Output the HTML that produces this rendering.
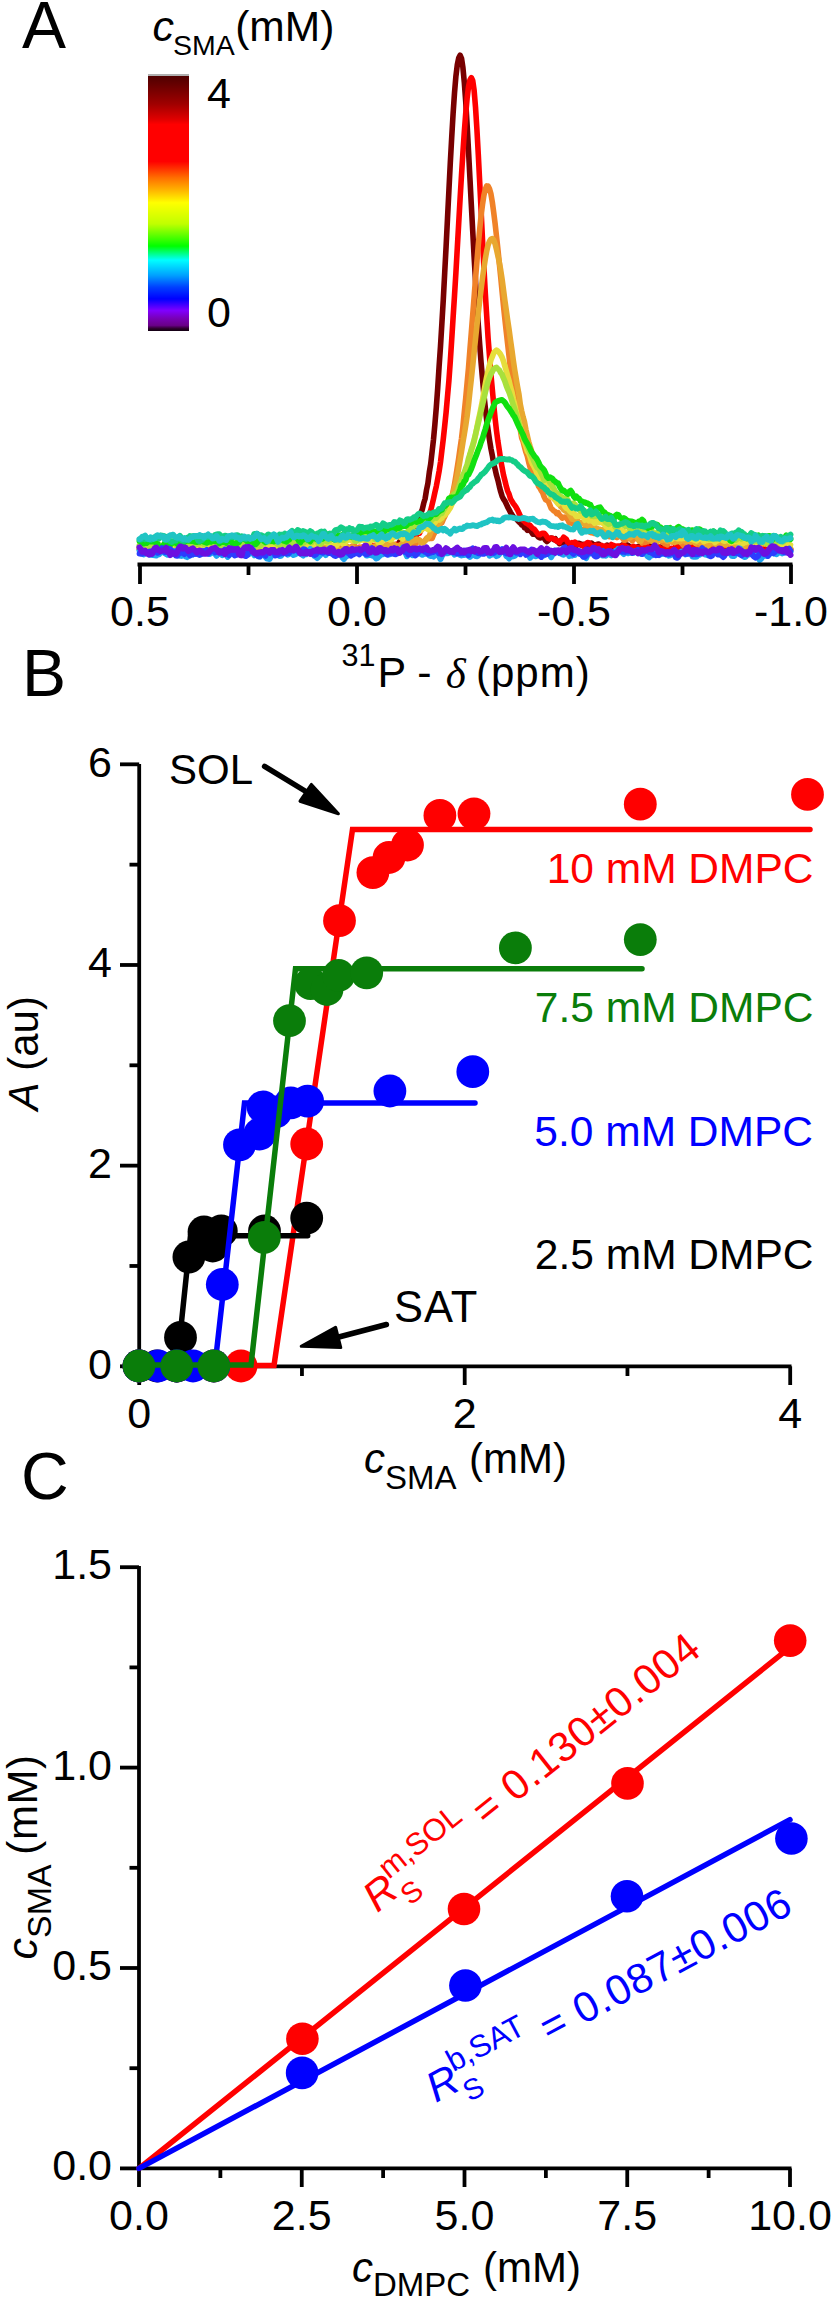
<!DOCTYPE html>
<html><head><meta charset="utf-8"><title>Figure</title>
<style>html,body{margin:0;padding:0;background:#fff;}svg{display:block;}</style></head>
<body>
<svg width="833" height="2300" viewBox="0 0 833 2300" font-family='"Liberation Sans", sans-serif'><text x="22" y="48" font-size="66" text-anchor="start" fill="#000" >A</text>
<text x="22" y="696" font-size="66" text-anchor="start" fill="#000" >B</text>
<text x="21" y="1499" font-size="66" text-anchor="start" fill="#000" >C</text>
<text x="152.6" y="40.5" font-size="43" text-anchor="start" fill="#000" font-style="italic" >c</text>
<text x="173.1" y="55" font-size="28.5" text-anchor="start" fill="#000" >SMA</text>
<text x="235.2" y="41.1" font-size="42.5" text-anchor="start" fill="#000" >(mM)</text>
<defs><linearGradient id="cb" x1="0" y1="0" x2="0" y2="1"><stop offset="0.0" stop-color="#500000"/><stop offset="0.03" stop-color="#640000"/><stop offset="0.11" stop-color="#a00000"/><stop offset="0.17" stop-color="#e00000"/><stop offset="0.19" stop-color="#ff0000"/><stop offset="0.335" stop-color="#ff0000"/><stop offset="0.4" stop-color="#ff7000"/><stop offset="0.445" stop-color="#ffb000"/><stop offset="0.497" stop-color="#ffff00"/><stop offset="0.58" stop-color="#c0ff00"/><stop offset="0.667" stop-color="#00ff00"/><stop offset="0.722" stop-color="#00ffff"/><stop offset="0.782" stop-color="#00a0ff"/><stop offset="0.828" stop-color="#0040ff"/><stop offset="0.874" stop-color="#0000ff"/><stop offset="0.92" stop-color="#8000ff"/><stop offset="0.95" stop-color="#7800b8"/><stop offset="0.978" stop-color="#6a0088"/><stop offset="0.99" stop-color="#300030"/><stop offset="1.0" stop-color="#100010"/></linearGradient></defs>
<rect x="148" y="74" width="41" height="2" fill="#b0b0b0"/>
<rect x="148" y="76" width="41" height="255" fill="url(#cb)"/>
<text x="207" y="108" font-size="43" text-anchor="start" fill="#000" >4</text>
<text x="207" y="327" font-size="43" text-anchor="start" fill="#000" >0</text>
<polyline points="139.5,549.3 140.9,550.0 142.3,548.9 143.7,549.4 145.1,550.0 146.5,550.3 147.9,550.5 149.3,549.6 150.7,550.4 152.1,550.4 153.5,550.3 154.9,548.7 156.3,548.4 157.7,547.7 159.1,547.4 160.5,546.5 161.9,545.6 163.3,546.5 164.7,547.5 166.1,548.5 167.5,548.7 168.9,547.8 170.3,548.0 171.7,548.1 173.1,549.7 174.5,549.1 175.9,548.6 177.3,546.6 178.7,546.8 180.1,545.5 181.5,545.9 182.9,547.1 184.3,547.1 185.7,548.8 187.1,548.2 188.5,549.6 189.9,549.4 191.3,549.5 192.7,550.5 194.1,550.0 195.5,549.2 196.9,547.9 198.3,547.4 199.7,547.8 201.1,547.6 202.5,549.2 203.9,547.8 205.3,547.6 206.7,546.1 208.1,545.9 209.5,548.1 210.9,547.0 212.3,548.4 213.7,546.6 215.1,549.6 216.5,548.4 217.9,549.6 219.3,547.8 220.7,549.1 222.1,547.8 223.5,548.9 224.9,548.1 226.3,548.6 227.7,548.3 229.1,550.6 230.5,548.8 231.9,549.7 233.3,549.0 234.7,550.5 236.1,549.6 237.5,548.5 238.9,550.1 240.3,550.0 241.7,550.2 243.1,548.8 244.5,548.5 245.9,548.5 247.3,548.1 248.7,549.7 250.1,548.4 251.5,546.4 252.9,544.8 254.3,546.1 255.7,549.1 257.1,549.0 258.5,549.0 259.9,549.0 261.3,549.9 262.7,549.6 264.1,549.1 265.5,549.8 266.9,550.6 268.3,550.1 269.7,550.4 271.1,550.6 272.5,550.9 273.9,548.2 275.3,547.9 276.7,547.7 278.1,547.8 279.5,546.6 280.9,546.8 282.3,548.5 283.7,549.1 285.1,548.4 286.5,548.1 287.9,548.4 289.3,550.2 290.7,550.6 292.1,550.4 293.5,549.6 294.9,548.7 296.3,548.0 297.7,548.6 299.1,549.6 300.5,550.6 301.9,549.9 303.3,548.7 304.7,548.0 306.1,547.6 307.5,547.5 308.9,547.4 310.3,547.7 311.7,546.8 313.1,547.7 314.5,548.1 315.9,548.4 317.3,546.4 318.7,546.3 320.1,548.0 321.5,549.2 322.9,548.8 324.3,547.6 325.7,548.6 327.1,548.3 328.5,549.4 329.9,548.7 331.3,550.1 332.7,549.4 334.1,549.4 335.5,547.6 336.9,547.1 338.3,547.0 339.7,548.6 341.1,549.3 342.5,549.0 343.9,548.8 345.3,549.3 346.7,549.7 348.1,549.0 349.5,548.0 350.9,548.7 352.3,549.4 353.7,549.0 355.1,548.6 356.5,547.8 357.9,547.9 359.3,548.6 360.7,549.5 362.1,549.5 363.5,548.6 364.9,548.3 366.3,548.3 367.7,548.1 369.1,548.1 370.5,547.2 371.9,547.5 373.3,547.5 374.7,549.1 376.1,547.7 377.5,547.3 378.9,546.2 380.3,547.5 381.7,547.5 383.1,548.2 384.5,547.0 385.9,545.9 387.3,546.2 388.7,545.8 390.1,546.3 391.5,545.8 392.9,545.9 394.3,546.9 395.7,546.2 397.1,547.5 398.5,543.6 399.9,541.3 401.3,539.7 402.7,540.9 404.1,541.4 405.5,539.7 406.9,536.6 408.3,535.1 409.7,532.9 411.1,532.4 412.5,531.7 413.9,530.3 415.3,528.3 416.7,524.3 418.1,520.7 419.5,516.8 420.9,512.9 422.3,509.4 423.7,503.3 425.1,498.7 426.5,490.0 427.9,483.4 429.3,472.3 430.7,464.0 432.1,451.7 433.5,439.5 434.9,424.2 436.3,407.4 437.7,388.3 439.1,366.4 440.5,346.3 441.9,323.2 443.3,299.5 444.7,272.9 446.1,246.5 447.5,218.3 448.9,190.6 450.3,162.8 451.7,137.7 453.1,113.6 454.5,93.0 455.9,76.3 457.3,64.9 458.7,58.0 460.1,55.2 461.5,58.3 462.9,67.4 464.3,82.3 465.7,101.4 467.1,124.6 468.5,150.4 469.9,177.4 471.3,204.4 472.7,230.7 474.1,256.6 475.5,280.6 476.9,303.9 478.3,325.1 479.7,344.7 481.1,362.7 482.5,378.8 483.9,394.8 485.3,407.6 486.7,420.2 488.1,430.1 489.5,439.9 490.9,448.5 492.3,455.4 493.7,463.8 495.1,469.1 496.5,475.3 497.9,480.1 499.3,486.2 500.7,491.7 502.1,496.2 503.5,499.1 504.9,501.1 506.3,503.9 507.7,507.1 509.1,509.7 510.5,512.4 511.9,514.6 513.3,516.6 514.7,518.1 516.1,518.6 517.5,520.3 518.9,521.8 520.3,523.0 521.7,525.0 523.1,524.8 524.5,527.7 525.9,528.1 527.3,530.3 528.7,529.5 530.1,530.6 531.5,532.0 532.9,534.2 534.3,533.8 535.7,534.4 537.1,535.4 538.5,537.1 539.9,538.0 541.3,537.0 542.7,537.7 544.1,538.0 545.5,540.2 546.9,541.6 548.3,540.4 549.7,538.4 551.1,538.1 552.5,538.2 553.9,539.7 555.3,538.8 556.7,541.0 558.1,541.9 559.5,543.6 560.9,543.0 562.3,542.7 563.7,542.3 565.1,542.8 566.5,543.1 567.9,543.9 569.3,543.5 570.7,544.9 572.1,544.9 573.5,546.5 574.9,546.2 576.3,545.5 577.7,543.3 579.1,543.4 580.5,543.9 581.9,545.4 583.3,544.4 584.7,544.9 586.1,544.0 587.5,544.2 588.9,543.9 590.3,544.9 591.7,543.3 593.1,544.4 594.5,544.7 595.9,545.3 597.3,544.2 598.7,544.0 600.1,545.9 601.5,546.5 602.9,547.6 604.3,547.2 605.7,546.5 607.1,545.1 608.5,545.7 609.9,546.0 611.3,547.2 612.7,547.5 614.1,548.4 615.5,548.6 616.9,547.8 618.3,547.4 619.7,546.2 621.1,546.0 622.5,544.8 623.9,544.9 625.3,544.6 626.7,544.7 628.1,545.3 629.5,546.5 630.9,547.4 632.3,548.3 633.7,548.7 635.1,549.8 636.5,548.3 637.9,546.6 639.3,546.2 640.7,546.9 642.1,548.6 643.5,548.6 644.9,549.3 646.3,548.6 647.7,548.8 649.1,547.2 650.5,545.7 651.9,544.9 653.3,546.7 654.7,547.2 656.1,548.3 657.5,546.7 658.9,547.7 660.3,547.0 661.7,547.7 663.1,547.3 664.5,547.4 665.9,547.6 667.3,548.9 668.7,548.3 670.1,549.1 671.5,550.0 672.9,552.4 674.3,550.2 675.7,548.9 677.1,545.7 678.5,547.0 679.9,547.3 681.3,547.9 682.7,546.4 684.1,546.2 685.5,547.5 686.9,548.1 688.3,547.8 689.7,545.5 691.1,545.5 692.5,545.9 693.9,547.9 695.3,549.6 696.7,548.7 698.1,546.9 699.5,546.0 700.9,546.4 702.3,548.4 703.7,548.6 705.1,549.5 706.5,550.4 707.9,550.8 709.3,549.2 710.7,548.0 712.1,548.5 713.5,549.5 714.9,550.3 716.3,548.7 717.7,548.7 719.1,549.2 720.5,550.0 721.9,550.2 723.3,549.7 724.7,547.9 726.1,547.6 727.5,547.6 728.9,548.6 730.3,548.3 731.7,548.0 733.1,548.2 734.5,550.0 735.9,550.4 737.3,549.9 738.7,548.6 740.1,547.8 741.5,547.9 742.9,549.3 744.3,550.6 745.7,551.8 747.1,551.0 748.5,549.6 749.9,549.3 751.3,548.8 752.7,549.1 754.1,547.2 755.5,547.2 756.9,548.1 758.3,548.6 759.7,547.8 761.1,546.6 762.5,548.6 763.9,550.8 765.3,550.7 766.7,549.1 768.1,547.9 769.5,547.5 770.9,547.9 772.3,547.7 773.7,547.3 775.1,546.9 776.5,546.9 777.9,547.4 779.3,547.0 780.7,547.8 782.1,549.9 783.5,550.5 784.9,549.5 786.3,548.5 787.7,548.5 789.1,548.3 790.5,549.0" fill="none" stroke="#780000" stroke-width="5.6" stroke-linejoin="round" stroke-linecap="round"/>
<polyline points="139.5,547.2 140.9,547.3 142.3,547.7 143.7,548.6 145.1,550.3 146.5,551.0 147.9,550.6 149.3,548.6 150.7,548.0 152.1,547.3 153.5,548.2 154.9,549.0 156.3,549.8 157.7,549.7 159.1,548.4 160.5,548.3 161.9,548.5 163.3,548.4 164.7,548.0 166.1,548.6 167.5,548.0 168.9,548.1 170.3,546.5 171.7,548.9 173.1,549.7 174.5,551.0 175.9,550.1 177.3,549.9 178.7,549.7 180.1,548.2 181.5,548.2 182.9,548.4 184.3,548.6 185.7,549.0 187.1,549.0 188.5,549.0 189.9,548.0 191.3,547.3 192.7,548.0 194.1,548.7 195.5,547.9 196.9,548.2 198.3,548.0 199.7,549.5 201.1,549.7 202.5,549.4 203.9,549.4 205.3,547.8 206.7,548.7 208.1,548.0 209.5,548.5 210.9,547.5 212.3,546.4 213.7,545.8 215.1,545.8 216.5,546.6 217.9,548.7 219.3,548.3 220.7,547.9 222.1,546.6 223.5,548.6 224.9,549.6 226.3,549.8 227.7,547.8 229.1,547.0 230.5,547.3 231.9,548.4 233.3,550.1 234.7,551.0 236.1,550.9 237.5,549.6 238.9,548.1 240.3,546.1 241.7,545.8 243.1,546.8 244.5,548.3 245.9,549.3 247.3,548.0 248.7,548.9 250.1,548.9 251.5,549.9 252.9,549.5 254.3,547.6 255.7,547.2 257.1,546.2 258.5,549.3 259.9,549.5 261.3,549.8 262.7,549.1 264.1,548.5 265.5,549.9 266.9,548.7 268.3,549.5 269.7,547.7 271.1,548.9 272.5,547.3 273.9,548.5 275.3,547.2 276.7,548.9 278.1,547.5 279.5,548.3 280.9,548.4 282.3,549.7 283.7,549.8 285.1,550.1 286.5,550.4 287.9,549.9 289.3,548.5 290.7,546.8 292.1,547.6 293.5,548.2 294.9,550.0 296.3,549.5 297.7,549.0 299.1,548.9 300.5,550.3 301.9,550.9 303.3,549.6 304.7,547.5 306.1,548.3 307.5,548.5 308.9,548.9 310.3,548.7 311.7,549.1 313.1,549.5 314.5,548.6 315.9,548.1 317.3,548.1 318.7,548.7 320.1,549.6 321.5,549.1 322.9,549.2 324.3,549.1 325.7,549.6 327.1,549.7 328.5,550.1 329.9,550.2 331.3,549.8 332.7,548.3 334.1,548.4 335.5,548.3 336.9,548.8 338.3,547.9 339.7,548.4 341.1,550.5 342.5,551.5 343.9,551.1 345.3,549.5 346.7,548.7 348.1,548.7 349.5,547.8 350.9,547.8 352.3,547.9 353.7,548.5 355.1,548.9 356.5,548.1 357.9,548.1 359.3,547.3 360.7,548.5 362.1,548.0 363.5,548.8 364.9,548.7 366.3,549.4 367.7,548.4 369.1,547.5 370.5,547.3 371.9,547.4 373.3,545.7 374.7,545.4 376.1,546.1 377.5,548.1 378.9,548.1 380.3,548.2 381.7,547.9 383.1,548.8 384.5,548.9 385.9,549.0 387.3,547.5 388.7,547.9 390.1,547.1 391.5,547.8 392.9,545.2 394.3,545.2 395.7,544.4 397.1,545.3 398.5,545.8 399.9,545.8 401.3,545.7 402.7,543.9 404.1,544.5 405.5,544.6 406.9,544.9 408.3,542.3 409.7,542.0 411.1,541.1 412.5,540.5 413.9,538.5 415.3,535.7 416.7,535.1 418.1,532.9 419.5,533.2 420.9,530.5 422.3,528.9 423.7,526.2 425.1,524.1 426.5,520.9 427.9,517.3 429.3,513.9 430.7,510.4 432.1,504.7 433.5,498.8 434.9,492.4 436.3,486.3 437.7,479.0 439.1,471.2 440.5,462.1 441.9,450.3 443.3,438.9 444.7,425.9 446.1,412.4 447.5,396.5 448.9,380.8 450.3,361.4 451.7,339.9 453.1,317.5 454.5,295.8 455.9,272.9 457.3,248.0 458.7,223.3 460.1,198.6 461.5,175.2 462.9,152.9 464.3,132.1 465.7,113.7 467.1,98.4 468.5,86.9 469.9,80.1 471.3,77.6 472.7,80.4 474.1,90.2 475.5,106.9 476.9,129.1 478.3,154.6 479.7,182.1 481.1,210.4 482.5,239.6 483.9,267.1 485.3,293.1 486.7,315.8 488.1,338.1 489.5,356.0 490.9,374.3 492.3,389.3 493.7,404.6 495.1,418.5 496.5,430.8 497.9,441.3 499.3,450.1 500.7,460.0 502.1,467.5 503.5,475.0 504.9,480.5 506.3,486.3 507.7,491.1 509.1,494.2 510.5,498.8 511.9,501.2 513.3,503.5 514.7,505.2 516.1,507.3 517.5,509.9 518.9,512.9 520.3,516.2 521.7,518.8 523.1,520.3 524.5,521.4 525.9,523.0 527.3,523.4 528.7,524.7 530.1,525.5 531.5,527.1 532.9,528.6 534.3,529.3 535.7,531.0 537.1,533.0 538.5,534.7 539.9,534.7 541.3,533.7 542.7,533.3 544.1,533.2 545.5,534.7 546.9,536.6 548.3,538.6 549.7,538.9 551.1,538.4 552.5,538.3 553.9,538.8 555.3,539.9 556.7,541.2 558.1,541.0 559.5,542.4 560.9,540.1 562.3,539.5 563.7,537.2 565.1,538.2 566.5,539.6 567.9,542.5 569.3,543.0 570.7,544.2 572.1,542.6 573.5,543.5 574.9,542.1 576.3,544.2 577.7,544.3 579.1,544.7 580.5,544.9 581.9,545.2 583.3,546.1 584.7,544.5 586.1,543.9 587.5,542.6 588.9,542.7 590.3,544.7 591.7,546.2 593.1,546.3 594.5,546.0 595.9,545.1 597.3,546.3 598.7,545.6 600.1,545.8 601.5,545.4 602.9,545.9 604.3,546.3 605.7,546.0 607.1,546.5 608.5,547.8 609.9,547.1 611.3,544.5 612.7,545.1 614.1,545.6 615.5,547.3 616.9,546.1 618.3,546.1 619.7,547.2 621.1,546.0 622.5,546.2 623.9,544.6 625.3,546.7 626.7,546.7 628.1,548.5 629.5,548.5 630.9,547.8 632.3,546.9 633.7,546.4 635.1,547.4 636.5,547.5 637.9,547.6 639.3,548.3 640.7,548.0 642.1,547.3 643.5,547.1 644.9,547.8 646.3,548.0 647.7,546.7 649.1,547.9 650.5,547.7 651.9,548.7 653.3,547.4 654.7,547.7 656.1,547.6 657.5,547.0 658.9,547.3 660.3,548.1 661.7,549.1 663.1,549.3 664.5,548.8 665.9,548.6 667.3,549.4 668.7,548.6 670.1,548.8 671.5,548.3 672.9,549.0 674.3,548.0 675.7,546.4 677.1,547.4 678.5,547.5 679.9,548.3 681.3,547.6 682.7,548.4 684.1,547.1 685.5,545.3 686.9,545.1 688.3,545.9 689.7,547.1 691.1,547.3 692.5,548.0 693.9,547.2 695.3,545.9 696.7,546.5 698.1,547.0 699.5,547.4 700.9,545.3 702.3,546.1 703.7,546.1 705.1,546.8 706.5,546.9 707.9,548.1 709.3,549.3 710.7,547.9 712.1,545.5 713.5,544.4 714.9,545.1 716.3,546.8 717.7,548.2 719.1,548.7 720.5,548.4 721.9,548.2 723.3,547.8 724.7,548.2 726.1,548.7 727.5,547.5 728.9,548.7 730.3,548.7 731.7,548.4 733.1,547.5 734.5,546.5 735.9,547.2 737.3,547.0 738.7,546.5 740.1,547.4 741.5,547.4 742.9,546.4 744.3,547.3 745.7,548.4 747.1,549.4 748.5,549.1 749.9,550.0 751.3,549.4 752.7,548.5 754.1,546.6 755.5,548.2 756.9,548.3 758.3,547.6 759.7,548.1 761.1,548.1 762.5,549.7 763.9,550.5 765.3,550.2 766.7,549.3 768.1,548.3 769.5,548.8 770.9,549.5 772.3,548.8 773.7,551.0 775.1,551.1 776.5,551.4 777.9,549.4 779.3,549.2 780.7,547.7 782.1,547.4 783.5,547.7 784.9,548.0 786.3,548.3 787.7,547.6 789.1,548.2 790.5,550.0" fill="none" stroke="#ff0000" stroke-width="5.6" stroke-linejoin="round" stroke-linecap="round"/>
<polyline points="139.5,548.2 140.9,547.7 142.3,547.2 143.7,547.8 145.1,547.9 146.5,550.1 147.9,551.3 149.3,552.5 150.7,551.6 152.1,552.8 153.5,550.9 154.9,548.7 156.3,546.6 157.7,547.3 159.1,548.4 160.5,547.7 161.9,548.1 163.3,549.4 164.7,550.1 166.1,549.4 167.5,549.0 168.9,548.5 170.3,548.4 171.7,547.7 173.1,546.1 174.5,547.9 175.9,547.6 177.3,549.9 178.7,548.6 180.1,549.0 181.5,547.5 182.9,548.7 184.3,548.8 185.7,550.1 187.1,551.3 188.5,549.8 189.9,550.1 191.3,547.5 192.7,547.3 194.1,548.3 195.5,547.1 196.9,548.4 198.3,546.8 199.7,548.2 201.1,547.3 202.5,548.5 203.9,548.6 205.3,548.3 206.7,546.2 208.1,546.2 209.5,546.3 210.9,547.6 212.3,547.7 213.7,548.1 215.1,546.2 216.5,544.9 217.9,545.7 219.3,546.8 220.7,549.4 222.1,548.7 223.5,549.5 224.9,548.5 226.3,548.9 227.7,548.9 229.1,549.1 230.5,549.0 231.9,549.0 233.3,547.9 234.7,549.6 236.1,549.5 237.5,550.4 238.9,546.4 240.3,545.9 241.7,544.3 243.1,546.7 244.5,546.8 245.9,546.8 247.3,546.6 248.7,547.6 250.1,549.3 251.5,549.1 252.9,549.3 254.3,547.9 255.7,548.9 257.1,547.3 258.5,548.6 259.9,550.0 261.3,550.5 262.7,550.6 264.1,547.6 265.5,547.3 266.9,548.5 268.3,549.6 269.7,550.5 271.1,547.0 272.5,547.1 273.9,546.0 275.3,548.3 276.7,547.9 278.1,550.6 279.5,548.7 280.9,549.4 282.3,545.7 283.7,546.3 285.1,547.0 286.5,548.5 287.9,547.8 289.3,547.2 290.7,548.1 292.1,549.5 293.5,549.9 294.9,548.0 296.3,549.1 297.7,548.9 299.1,548.3 300.5,548.3 301.9,547.4 303.3,549.5 304.7,546.4 306.1,546.3 307.5,544.4 308.9,546.6 310.3,547.0 311.7,547.7 313.1,546.7 314.5,547.8 315.9,547.9 317.3,548.7 318.7,546.8 320.1,546.1 321.5,545.2 322.9,545.9 324.3,547.4 325.7,548.6 327.1,548.5 328.5,548.0 329.9,547.9 331.3,548.6 332.7,548.8 334.1,548.4 335.5,546.3 336.9,545.8 338.3,544.4 339.7,545.8 341.1,547.0 342.5,546.9 343.9,547.9 345.3,546.7 346.7,547.9 348.1,546.8 349.5,547.8 350.9,547.4 352.3,546.1 353.7,545.8 355.1,546.2 356.5,548.4 357.9,548.6 359.3,547.7 360.7,547.4 362.1,546.9 363.5,547.8 364.9,547.7 366.3,547.9 367.7,547.5 369.1,547.2 370.5,547.7 371.9,547.3 373.3,547.3 374.7,545.7 376.1,545.7 377.5,545.3 378.9,546.3 380.3,548.3 381.7,548.4 383.1,549.0 384.5,548.2 385.9,548.3 387.3,545.0 388.7,544.6 390.1,544.5 391.5,546.1 392.9,546.0 394.3,547.1 395.7,546.9 397.1,546.2 398.5,545.7 399.9,545.0 401.3,544.5 402.7,543.8 404.1,545.9 405.5,547.5 406.9,547.7 408.3,548.6 409.7,547.6 411.1,545.7 412.5,543.4 413.9,543.3 415.3,544.3 416.7,542.5 418.1,541.9 419.5,540.5 420.9,541.4 422.3,541.7 423.7,541.6 425.1,540.6 426.5,538.5 427.9,537.3 429.3,538.6 430.7,538.3 432.1,538.4 433.5,535.0 434.9,532.4 436.3,530.2 437.7,527.3 439.1,526.6 440.5,523.2 441.9,522.6 443.3,519.3 444.7,516.6 446.1,513.4 447.5,509.8 448.9,507.7 450.3,502.9 451.7,498.5 453.1,491.4 454.5,484.2 455.9,476.1 457.3,467.1 458.7,458.3 460.1,448.2 461.5,438.6 462.9,426.7 464.3,412.1 465.7,398.2 467.1,383.1 468.5,368.0 469.9,350.0 471.3,332.6 472.7,314.9 474.1,297.2 475.5,279.0 476.9,261.8 478.3,244.8 479.7,229.6 481.1,215.6 482.5,204.6 483.9,195.4 485.3,189.3 486.7,185.9 488.1,186.1 489.5,188.8 490.9,193.8 492.3,202.0 493.7,212.3 495.1,223.7 496.5,236.3 497.9,249.0 499.3,263.1 500.7,277.0 502.1,291.7 503.5,306.1 504.9,319.3 506.3,331.9 507.7,344.4 509.1,356.8 510.5,370.2 511.9,380.4 513.3,390.0 514.7,398.6 516.1,405.3 517.5,412.4 518.9,421.2 520.3,429.8 521.7,437.9 523.1,441.6 524.5,447.1 525.9,452.2 527.3,456.2 528.7,462.2 530.1,467.2 531.5,472.8 532.9,475.0 534.3,476.3 535.7,478.6 537.1,481.5 538.5,486.2 539.9,488.0 541.3,490.7 542.7,492.8 544.1,496.7 545.5,499.6 546.9,500.5 548.3,501.4 549.7,504.7 551.1,508.2 552.5,509.6 553.9,511.0 555.3,511.6 556.7,513.6 558.1,512.7 559.5,515.2 560.9,516.4 562.3,518.1 563.7,517.2 565.1,517.1 566.5,518.2 567.9,519.8 569.3,523.0 570.7,522.9 572.1,523.4 573.5,523.7 574.9,525.8 576.3,526.2 577.7,527.3 579.1,527.6 580.5,529.5 581.9,529.2 583.3,530.1 584.7,529.6 586.1,529.7 587.5,530.2 588.9,531.4 590.3,532.3 591.7,532.8 593.1,533.1 594.5,533.5 595.9,531.2 597.3,531.0 598.7,531.7 600.1,533.1 601.5,533.6 602.9,533.4 604.3,534.4 605.7,535.6 607.1,536.1 608.5,536.3 609.9,536.8 611.3,536.4 612.7,536.2 614.1,535.9 615.5,536.9 616.9,537.6 618.3,536.7 619.7,536.0 621.1,536.5 622.5,538.1 623.9,540.2 625.3,540.1 626.7,539.5 628.1,536.5 629.5,537.9 630.9,539.0 632.3,540.9 633.7,539.4 635.1,536.8 636.5,537.5 637.9,537.6 639.3,541.1 640.7,541.2 642.1,543.0 643.5,541.8 644.9,542.3 646.3,540.3 647.7,541.7 649.1,540.8 650.5,541.1 651.9,539.8 653.3,539.1 654.7,540.4 656.1,540.2 657.5,540.1 658.9,539.7 660.3,540.2 661.7,541.5 663.1,542.4 664.5,543.7 665.9,544.0 667.3,544.8 668.7,541.9 670.1,541.6 671.5,541.1 672.9,542.2 674.3,542.1 675.7,541.6 677.1,541.5 678.5,541.3 679.9,541.7 681.3,542.7 682.7,544.5 684.1,546.0 685.5,546.3 686.9,544.2 688.3,542.3 689.7,542.0 691.1,541.8 692.5,541.6 693.9,541.7 695.3,542.6 696.7,543.8 698.1,545.0 699.5,545.7 700.9,544.7 702.3,544.3 703.7,544.0 705.1,544.5 706.5,543.5 707.9,541.0 709.3,541.6 710.7,541.9 712.1,544.1 713.5,543.4 714.9,543.9 716.3,544.1 717.7,545.4 719.1,545.6 720.5,546.0 721.9,544.1 723.3,544.0 724.7,544.2 726.1,544.9 727.5,545.3 728.9,544.2 730.3,544.6 731.7,543.5 733.1,544.0 734.5,543.1 735.9,544.1 737.3,545.4 738.7,546.2 740.1,545.4 741.5,544.7 742.9,545.3 744.3,546.6 745.7,547.0 747.1,545.3 748.5,544.3 749.9,543.3 751.3,543.9 752.7,544.6 754.1,545.2 755.5,545.3 756.9,545.6 758.3,545.0 759.7,545.0 761.1,544.7 762.5,544.2 763.9,543.8 765.3,542.6 766.7,542.9 768.1,543.5 769.5,544.5 770.9,545.7 772.3,546.1 773.7,545.3 775.1,546.5 776.5,547.4 777.9,547.3 779.3,545.3 780.7,543.9 782.1,545.0 783.5,546.1 784.9,546.5 786.3,544.3 787.7,546.1 789.1,546.8 790.5,549.6" fill="none" stroke="#f08228" stroke-width="5.6" stroke-linejoin="round" stroke-linecap="round"/>
<polyline points="139.5,548.2 140.9,548.4 142.3,549.3 143.7,548.6 145.1,550.2 146.5,549.4 147.9,550.5 149.3,547.9 150.7,549.1 152.1,548.2 153.5,549.2 154.9,548.9 156.3,548.3 157.7,549.3 159.1,549.2 160.5,550.2 161.9,551.4 163.3,551.7 164.7,552.9 166.1,551.7 167.5,550.7 168.9,549.0 170.3,548.4 171.7,547.3 173.1,547.1 174.5,546.2 175.9,546.9 177.3,546.6 178.7,547.1 180.1,546.4 181.5,546.8 182.9,547.2 184.3,549.2 185.7,549.6 187.1,550.4 188.5,548.9 189.9,548.1 191.3,546.3 192.7,546.0 194.1,546.9 195.5,547.7 196.9,548.3 198.3,547.3 199.7,548.7 201.1,548.7 202.5,550.1 203.9,548.8 205.3,549.6 206.7,547.9 208.1,546.9 209.5,547.0 210.9,547.5 212.3,548.8 213.7,548.6 215.1,549.5 216.5,549.5 217.9,547.8 219.3,546.7 220.7,546.5 222.1,548.0 223.5,548.9 224.9,549.2 226.3,548.1 227.7,547.6 229.1,548.1 230.5,548.0 231.9,547.6 233.3,547.5 234.7,549.5 236.1,550.3 237.5,549.6 238.9,547.5 240.3,547.1 241.7,546.5 243.1,547.3 244.5,548.0 245.9,549.0 247.3,549.9 248.7,548.5 250.1,547.2 251.5,547.2 252.9,548.9 254.3,549.1 255.7,548.1 257.1,546.4 258.5,547.2 259.9,547.3 261.3,549.0 262.7,548.2 264.1,546.9 265.5,546.6 266.9,547.1 268.3,549.3 269.7,547.9 271.1,547.6 272.5,544.3 273.9,546.1 275.3,547.7 276.7,550.2 278.1,549.1 279.5,546.4 280.9,545.0 282.3,544.8 283.7,547.9 285.1,549.7 286.5,549.7 287.9,548.5 289.3,548.2 290.7,549.1 292.1,548.0 293.5,547.2 294.9,547.6 296.3,548.9 297.7,549.0 299.1,550.1 300.5,549.8 301.9,549.7 303.3,548.5 304.7,548.9 306.1,549.1 307.5,549.9 308.9,550.1 310.3,550.2 311.7,549.3 313.1,549.0 314.5,548.7 315.9,548.7 317.3,547.8 318.7,547.8 320.1,547.7 321.5,547.1 322.9,547.0 324.3,545.7 325.7,547.3 327.1,547.1 328.5,549.3 329.9,550.0 331.3,549.9 332.7,548.5 334.1,547.0 335.5,547.5 336.9,547.9 338.3,549.4 339.7,551.2 341.1,552.1 342.5,549.9 343.9,547.7 345.3,546.1 346.7,546.8 348.1,547.3 349.5,547.9 350.9,547.8 352.3,547.2 353.7,548.5 355.1,549.4 356.5,551.6 357.9,549.2 359.3,549.8 360.7,549.3 362.1,550.8 363.5,549.1 364.9,548.1 366.3,546.4 367.7,546.1 369.1,545.6 370.5,546.6 371.9,547.3 373.3,547.1 374.7,547.2 376.1,546.7 377.5,547.1 378.9,547.2 380.3,548.1 381.7,548.2 383.1,546.7 384.5,545.8 385.9,544.9 387.3,546.2 388.7,544.9 390.1,545.3 391.5,543.3 392.9,545.1 394.3,544.4 395.7,545.6 397.1,545.7 398.5,547.3 399.9,546.3 401.3,545.4 402.7,542.3 404.1,542.7 405.5,541.8 406.9,543.6 408.3,543.4 409.7,543.7 411.1,541.9 412.5,541.4 413.9,540.0 415.3,540.5 416.7,539.0 418.1,539.6 419.5,539.9 420.9,542.7 422.3,543.0 423.7,542.5 425.1,540.3 426.5,539.5 427.9,537.4 429.3,536.1 430.7,532.2 432.1,530.6 433.5,529.9 434.9,528.6 436.3,527.7 437.7,525.0 439.1,524.1 440.5,522.0 441.9,519.8 443.3,516.7 444.7,513.6 446.1,509.1 447.5,507.8 448.9,504.2 450.3,502.4 451.7,496.1 453.1,492.8 454.5,487.6 455.9,482.9 457.3,475.4 458.7,468.1 460.1,459.9 461.5,451.6 462.9,442.6 464.3,434.2 465.7,425.7 467.1,416.3 468.5,405.1 469.9,391.7 471.3,379.1 472.7,366.2 474.1,352.5 475.5,339.0 476.9,325.6 478.3,313.0 479.7,300.7 481.1,289.1 482.5,278.2 483.9,268.2 485.3,259.0 486.7,251.0 488.1,244.9 489.5,241.2 490.9,239.1 492.3,238.6 493.7,240.0 495.1,243.9 496.5,249.5 497.9,255.9 499.3,262.2 500.7,270.1 502.1,279.2 503.5,289.8 504.9,300.5 506.3,310.3 507.7,320.5 509.1,329.7 510.5,340.2 511.9,349.9 513.3,360.3 514.7,369.8 516.1,378.3 517.5,386.5 518.9,394.0 520.3,404.3 521.7,411.1 523.1,417.1 524.5,421.9 525.9,429.5 527.3,435.7 528.7,441.7 530.1,446.4 531.5,450.7 532.9,456.1 534.3,458.7 535.7,464.8 537.1,467.2 538.5,471.3 539.9,472.6 541.3,475.3 542.7,478.3 544.1,481.1 545.5,483.8 546.9,486.8 548.3,490.1 549.7,492.8 551.1,495.2 552.5,496.3 553.9,498.8 555.3,500.2 556.7,501.7 558.1,503.2 559.5,504.9 560.9,506.7 562.3,508.0 563.7,509.9 565.1,510.7 566.5,511.5 567.9,512.7 569.3,514.8 570.7,516.9 572.1,519.3 573.5,519.3 574.9,519.8 576.3,518.5 577.7,521.5 579.1,522.5 580.5,522.4 581.9,522.9 583.3,523.1 584.7,524.7 586.1,524.5 587.5,525.3 588.9,525.4 590.3,525.7 591.7,527.1 593.1,527.6 594.5,527.9 595.9,527.9 597.3,528.5 598.7,529.2 600.1,529.3 601.5,529.8 602.9,530.1 604.3,529.5 605.7,530.5 607.1,531.3 608.5,532.4 609.9,533.1 611.3,533.5 612.7,534.5 614.1,533.8 615.5,533.9 616.9,534.8 618.3,535.7 619.7,535.7 621.1,534.7 622.5,534.6 623.9,535.5 625.3,535.7 626.7,536.4 628.1,536.8 629.5,538.0 630.9,537.2 632.3,536.5 633.7,535.5 635.1,535.7 636.5,536.8 637.9,538.9 639.3,540.9 640.7,541.6 642.1,538.5 643.5,537.6 644.9,535.7 646.3,538.1 647.7,538.5 649.1,539.6 650.5,539.5 651.9,540.3 653.3,541.9 654.7,542.8 656.1,543.1 657.5,540.6 658.9,540.6 660.3,540.0 661.7,540.3 663.1,539.5 664.5,539.4 665.9,540.6 667.3,541.4 668.7,540.6 670.1,541.3 671.5,541.6 672.9,541.9 674.3,542.6 675.7,541.2 677.1,541.6 678.5,541.3 679.9,541.9 681.3,541.1 682.7,539.9 684.1,540.6 685.5,541.7 686.9,541.9 688.3,541.5 689.7,542.0 691.1,541.9 692.5,541.2 693.9,541.6 695.3,543.3 696.7,542.0 698.1,542.1 699.5,542.0 700.9,543.4 702.3,544.3 703.7,542.3 705.1,543.9 706.5,544.1 707.9,546.6 709.3,543.7 710.7,542.5 712.1,540.5 713.5,543.1 714.9,544.2 716.3,545.4 717.7,546.4 719.1,544.0 720.5,543.0 721.9,541.4 723.3,543.3 724.7,545.0 726.1,544.8 727.5,543.6 728.9,543.3 730.3,543.0 731.7,544.3 733.1,542.9 734.5,544.0 735.9,545.2 737.3,545.7 738.7,545.8 740.1,543.6 741.5,544.3 742.9,545.5 744.3,546.7 745.7,545.2 747.1,544.3 748.5,545.1 749.9,545.4 751.3,545.1 752.7,543.1 754.1,543.4 755.5,542.8 756.9,542.5 758.3,543.4 759.7,544.2 761.1,543.5 762.5,542.3 763.9,541.8 765.3,542.7 766.7,543.7 768.1,544.2 769.5,545.4 770.9,544.2 772.3,543.8 773.7,543.2 775.1,544.0 776.5,544.3 777.9,544.1 779.3,544.3 780.7,545.9 782.1,546.0 783.5,544.8 784.9,543.7 786.3,543.6 787.7,545.6 789.1,546.2 790.5,548.3" fill="none" stroke="#e8a830" stroke-width="5.6" stroke-linejoin="round" stroke-linecap="round"/>
<polyline points="139.5,546.4 140.9,547.0 142.3,549.6 143.7,548.3 145.1,547.2 146.5,546.1 147.9,544.4 149.3,545.6 150.7,545.0 152.1,546.0 153.5,545.5 154.9,545.3 156.3,546.5 157.7,545.7 159.1,548.4 160.5,548.8 161.9,549.9 163.3,548.2 164.7,547.1 166.1,546.1 167.5,544.2 168.9,543.6 170.3,543.4 171.7,544.6 173.1,545.1 174.5,544.2 175.9,543.5 177.3,542.9 178.7,544.1 180.1,545.9 181.5,548.8 182.9,549.1 184.3,548.9 185.7,546.5 187.1,546.9 188.5,547.8 189.9,548.0 191.3,548.2 192.7,546.8 194.1,546.1 195.5,546.5 196.9,546.3 198.3,548.1 199.7,546.2 201.1,546.7 202.5,546.9 203.9,547.3 205.3,547.2 206.7,547.0 208.1,547.9 209.5,546.9 210.9,545.3 212.3,545.2 213.7,545.4 215.1,545.3 216.5,545.1 217.9,544.6 219.3,546.3 220.7,545.7 222.1,546.8 223.5,545.4 224.9,547.1 226.3,546.8 227.7,548.5 229.1,548.8 230.5,549.8 231.9,546.8 233.3,544.1 234.7,543.2 236.1,544.6 237.5,546.3 238.9,547.5 240.3,547.7 241.7,547.2 243.1,546.4 244.5,544.3 245.9,545.2 247.3,543.5 248.7,543.6 250.1,541.9 251.5,542.9 252.9,543.5 254.3,543.9 255.7,544.3 257.1,545.9 258.5,546.4 259.9,545.9 261.3,545.4 262.7,546.1 264.1,546.3 265.5,546.1 266.9,543.1 268.3,543.6 269.7,545.5 271.1,547.9 272.5,547.4 273.9,546.7 275.3,547.2 276.7,548.5 278.1,546.4 279.5,544.3 280.9,543.7 282.3,545.1 283.7,546.5 285.1,544.6 286.5,544.8 287.9,546.0 289.3,548.3 290.7,549.8 292.1,548.5 293.5,547.6 294.9,546.9 296.3,547.3 297.7,545.2 299.1,542.2 300.5,541.6 301.9,543.1 303.3,545.9 304.7,547.0 306.1,548.6 307.5,546.7 308.9,545.1 310.3,544.6 311.7,544.5 313.1,545.3 314.5,544.8 315.9,545.7 317.3,545.2 318.7,544.2 320.1,541.0 321.5,539.7 322.9,539.0 324.3,542.1 325.7,541.9 327.1,542.6 328.5,542.4 329.9,544.2 331.3,545.5 332.7,545.4 334.1,546.1 335.5,544.7 336.9,545.2 338.3,542.6 339.7,542.7 341.1,542.0 342.5,543.6 343.9,543.7 345.3,542.7 346.7,541.0 348.1,539.1 349.5,537.9 350.9,540.3 352.3,540.6 353.7,540.9 355.1,537.9 356.5,539.2 357.9,540.2 359.3,541.0 360.7,540.0 362.1,540.0 363.5,539.2 364.9,540.5 366.3,541.8 367.7,542.1 369.1,541.8 370.5,540.0 371.9,540.3 373.3,538.8 374.7,539.2 376.1,539.4 377.5,541.5 378.9,543.3 380.3,542.3 381.7,542.0 383.1,539.0 384.5,539.2 385.9,537.0 387.3,538.0 388.7,539.3 390.1,540.0 391.5,539.6 392.9,537.6 394.3,537.2 395.7,535.6 397.1,536.0 398.5,534.2 399.9,537.0 401.3,537.9 402.7,538.9 404.1,536.1 405.5,534.3 406.9,534.6 408.3,534.8 409.7,536.5 411.1,535.6 412.5,533.3 413.9,531.4 415.3,531.7 416.7,532.2 418.1,532.2 419.5,531.1 420.9,530.6 422.3,529.2 423.7,527.6 425.1,527.3 426.5,528.2 427.9,529.6 429.3,529.7 430.7,527.5 432.1,525.9 433.5,523.4 434.9,522.5 436.3,520.6 437.7,519.9 439.1,520.0 440.5,518.8 441.9,518.0 443.3,515.3 444.7,515.3 446.1,513.4 447.5,512.1 448.9,509.7 450.3,507.8 451.7,504.7 453.1,501.2 454.5,499.9 455.9,497.0 457.3,496.1 458.7,493.6 460.1,490.7 461.5,485.3 462.9,479.3 464.3,475.3 465.7,473.0 467.1,468.6 468.5,463.2 469.9,455.4 471.3,450.6 472.7,446.6 474.1,441.5 475.5,435.1 476.9,428.1 478.3,420.6 479.7,414.3 481.1,407.5 482.5,400.4 483.9,392.0 485.3,384.2 486.7,377.1 488.1,370.8 489.5,365.3 490.9,360.0 492.3,356.6 493.7,353.0 495.1,351.4 496.5,350.2 497.9,351.1 499.3,352.6 500.7,354.7 502.1,357.4 503.5,361.3 504.9,366.1 506.3,371.0 507.7,376.2 509.1,381.1 510.5,387.1 511.9,392.1 513.3,398.9 514.7,404.5 516.1,411.3 517.5,416.7 518.9,422.2 520.3,427.4 521.7,432.9 523.1,437.6 524.5,442.5 525.9,446.4 527.3,451.3 528.7,453.3 530.1,457.0 531.5,461.9 532.9,464.7 534.3,467.2 535.7,469.9 537.1,473.6 538.5,478.3 539.9,481.0 541.3,483.9 542.7,483.7 544.1,484.3 545.5,484.6 546.9,487.3 548.3,490.4 549.7,494.5 551.1,497.1 552.5,497.4 553.9,497.4 555.3,499.8 556.7,502.0 558.1,503.9 559.5,502.1 560.9,501.9 562.3,502.2 563.7,504.3 565.1,507.0 566.5,508.3 567.9,508.1 569.3,510.6 570.7,512.0 572.1,512.9 573.5,513.1 574.9,514.3 576.3,516.4 577.7,515.7 579.1,516.2 580.5,515.0 581.9,516.6 583.3,517.0 584.7,520.2 586.1,519.5 587.5,519.3 588.9,520.7 590.3,518.8 591.7,521.0 593.1,521.2 594.5,523.2 595.9,522.4 597.3,521.3 598.7,522.7 600.1,522.2 601.5,522.1 602.9,523.1 604.3,524.4 605.7,526.4 607.1,527.4 608.5,527.6 609.9,529.3 611.3,530.4 612.7,529.9 614.1,528.3 615.5,526.9 616.9,528.9 618.3,528.5 619.7,530.5 621.1,530.1 622.5,533.1 623.9,531.4 625.3,533.7 626.7,532.5 628.1,534.2 629.5,533.1 630.9,533.3 632.3,531.9 633.7,531.7 635.1,531.0 636.5,531.9 637.9,531.9 639.3,533.5 640.7,534.1 642.1,534.4 643.5,532.4 644.9,533.2 646.3,533.0 647.7,534.4 649.1,534.1 650.5,534.9 651.9,535.5 653.3,535.4 654.7,534.0 656.1,534.7 657.5,534.6 658.9,537.0 660.3,536.7 661.7,536.6 663.1,537.4 664.5,537.5 665.9,538.9 667.3,538.4 668.7,539.1 670.1,539.2 671.5,539.4 672.9,538.0 674.3,537.1 675.7,537.8 677.1,538.6 678.5,538.6 679.9,537.6 681.3,538.7 682.7,538.4 684.1,538.4 685.5,537.3 686.9,537.6 688.3,538.4 689.7,538.4 691.1,539.1 692.5,538.9 693.9,539.9 695.3,540.3 696.7,540.8 698.1,539.8 699.5,537.4 700.9,537.6 702.3,539.8 703.7,541.6 705.1,541.0 706.5,540.4 707.9,540.1 709.3,540.1 710.7,539.1 712.1,540.3 713.5,540.5 714.9,542.4 716.3,541.2 717.7,540.6 719.1,538.1 720.5,539.1 721.9,539.7 723.3,540.8 724.7,541.2 726.1,540.5 727.5,539.5 728.9,540.9 730.3,541.8 731.7,542.3 733.1,541.4 734.5,541.6 735.9,541.7 737.3,541.1 738.7,542.0 740.1,543.4 741.5,543.1 742.9,543.7 744.3,542.4 745.7,542.4 747.1,541.4 748.5,541.3 749.9,542.1 751.3,542.1 752.7,543.9 754.1,543.6 755.5,545.0 756.9,543.1 758.3,542.6 759.7,540.5 761.1,541.7 762.5,542.6 763.9,542.2 765.3,543.1 766.7,543.5 768.1,544.6 769.5,542.6 770.9,542.2 772.3,542.5 773.7,542.9 775.1,541.8 776.5,541.1 777.9,540.7 779.3,541.6 780.7,543.1 782.1,544.6 783.5,543.8 784.9,542.8 786.3,542.5 787.7,544.7 789.1,544.4 790.5,544.9" fill="none" stroke="#e6de3c" stroke-width="5.7" stroke-linejoin="round" stroke-linecap="round"/>
<polyline points="139.5,545.0 140.9,545.7 142.3,544.3 143.7,545.6 145.1,543.8 146.5,544.1 147.9,544.5 149.3,546.4 150.7,545.5 152.1,546.9 153.5,546.7 154.9,547.4 156.3,544.7 157.7,543.4 159.1,545.0 160.5,546.5 161.9,548.7 163.3,546.3 164.7,543.5 166.1,540.1 167.5,539.7 168.9,540.9 170.3,541.8 171.7,541.6 173.1,542.5 174.5,542.9 175.9,544.7 177.3,545.3 178.7,545.2 180.1,544.4 181.5,544.5 182.9,543.8 184.3,543.8 185.7,541.6 187.1,542.7 188.5,542.6 189.9,543.8 191.3,543.5 192.7,545.2 194.1,544.2 195.5,544.6 196.9,544.1 198.3,544.0 199.7,543.5 201.1,542.7 202.5,543.1 203.9,544.4 205.3,543.8 206.7,542.8 208.1,542.7 209.5,542.6 210.9,543.3 212.3,542.5 213.7,544.2 215.1,545.5 216.5,545.9 217.9,545.1 219.3,544.0 220.7,545.4 222.1,546.1 223.5,545.7 224.9,544.9 226.3,542.7 227.7,542.7 229.1,541.2 230.5,543.9 231.9,546.4 233.3,547.1 234.7,545.1 236.1,544.5 237.5,544.0 238.9,545.9 240.3,543.8 241.7,545.1 243.1,542.9 244.5,545.4 245.9,544.6 247.3,544.7 248.7,543.2 250.1,540.8 251.5,541.4 252.9,541.9 254.3,546.3 255.7,545.2 257.1,545.6 258.5,544.6 259.9,546.2 261.3,544.8 262.7,543.8 264.1,542.3 265.5,542.8 266.9,541.6 268.3,541.9 269.7,541.6 271.1,541.9 272.5,541.1 273.9,540.9 275.3,542.0 276.7,543.7 278.1,544.1 279.5,545.4 280.9,544.7 282.3,545.5 283.7,543.0 285.1,543.6 286.5,543.0 287.9,545.6 289.3,544.4 290.7,545.4 292.1,543.5 293.5,543.6 294.9,540.4 296.3,541.2 297.7,541.1 299.1,543.3 300.5,542.6 301.9,543.8 303.3,543.0 304.7,542.2 306.1,541.0 307.5,540.9 308.9,541.8 310.3,541.5 311.7,542.3 313.1,539.9 314.5,539.4 315.9,539.1 317.3,541.2 318.7,544.2 320.1,544.5 321.5,543.2 322.9,540.2 324.3,539.2 325.7,540.0 327.1,541.6 328.5,541.0 329.9,540.3 331.3,538.9 332.7,539.2 334.1,539.0 335.5,539.5 336.9,540.1 338.3,540.6 339.7,539.6 341.1,539.3 342.5,540.1 343.9,540.2 345.3,539.2 346.7,536.9 348.1,536.7 349.5,535.9 350.9,535.9 352.3,536.2 353.7,538.9 355.1,541.1 356.5,541.2 357.9,539.6 359.3,538.5 360.7,538.9 362.1,536.5 363.5,536.1 364.9,534.8 366.3,536.0 367.7,535.9 369.1,533.4 370.5,531.3 371.9,531.6 373.3,536.0 374.7,539.0 376.1,537.4 377.5,535.6 378.9,535.1 380.3,535.8 381.7,533.8 383.1,533.7 384.5,533.1 385.9,534.9 387.3,532.3 388.7,531.6 390.1,532.5 391.5,533.4 392.9,534.6 394.3,534.7 395.7,534.9 397.1,534.2 398.5,532.1 399.9,532.5 401.3,532.4 402.7,532.7 404.1,533.0 405.5,532.8 406.9,533.1 408.3,530.5 409.7,529.3 411.1,528.3 412.5,527.8 413.9,526.2 415.3,525.0 416.7,524.8 418.1,525.9 419.5,526.9 420.9,526.3 422.3,524.3 423.7,521.8 425.1,521.0 426.5,520.7 427.9,521.3 429.3,521.5 430.7,521.5 432.1,519.3 433.5,518.7 434.9,517.3 436.3,518.0 437.7,516.0 439.1,514.8 440.5,512.6 441.9,513.2 443.3,510.2 444.7,508.5 446.1,503.7 447.5,502.1 448.9,499.5 450.3,499.5 451.7,497.4 453.1,495.2 454.5,493.8 455.9,494.0 457.3,491.4 458.7,487.4 460.1,483.3 461.5,479.8 462.9,475.0 464.3,472.4 465.7,468.4 467.1,464.8 468.5,458.7 469.9,454.5 471.3,449.5 472.7,445.2 474.1,440.0 475.5,434.4 476.9,428.3 478.3,422.9 479.7,416.9 481.1,410.6 482.5,404.5 483.9,398.6 485.3,392.4 486.7,386.8 488.1,381.3 489.5,377.5 490.9,374.0 492.3,371.7 493.7,369.1 495.1,368.0 496.5,367.5 497.9,369.0 499.3,370.0 500.7,372.8 502.1,374.6 503.5,378.2 504.9,381.3 506.3,385.6 507.7,389.1 509.1,392.3 510.5,396.4 511.9,400.7 513.3,405.3 514.7,409.2 516.1,413.9 517.5,419.1 518.9,423.9 520.3,428.2 521.7,432.4 523.1,436.1 524.5,439.6 525.9,442.7 527.3,446.2 528.7,449.5 530.1,452.8 531.5,455.8 532.9,458.6 534.3,462.1 535.7,464.9 537.1,467.8 538.5,468.5 539.9,470.3 541.3,473.6 542.7,476.4 544.1,480.4 545.5,478.8 546.9,478.6 548.3,479.1 549.7,482.4 551.1,484.1 552.5,486.4 553.9,488.7 555.3,491.6 556.7,492.9 558.1,494.2 559.5,496.2 560.9,496.3 562.3,497.5 563.7,498.2 565.1,499.3 566.5,498.5 567.9,500.0 569.3,502.6 570.7,504.4 572.1,504.7 573.5,503.2 574.9,504.4 576.3,506.4 577.7,508.3 579.1,509.9 580.5,510.9 581.9,510.9 583.3,510.5 584.7,510.8 586.1,512.0 587.5,512.2 588.9,512.3 590.3,513.6 591.7,516.2 593.1,516.0 594.5,516.5 595.9,516.4 597.3,515.2 598.7,516.1 600.1,516.1 601.5,517.7 602.9,519.1 604.3,520.1 605.7,522.3 607.1,523.3 608.5,524.3 609.9,523.6 611.3,521.8 612.7,522.8 614.1,525.3 615.5,527.2 616.9,525.9 618.3,526.2 619.7,524.5 621.1,524.7 622.5,524.6 623.9,525.4 625.3,526.4 626.7,526.0 628.1,526.7 629.5,528.4 630.9,529.4 632.3,530.5 633.7,527.5 635.1,526.7 636.5,526.8 637.9,526.9 639.3,527.3 640.7,526.4 642.1,529.3 643.5,528.3 644.9,528.3 646.3,527.5 647.7,529.5 649.1,528.6 650.5,530.0 651.9,530.8 653.3,533.7 654.7,533.3 656.1,533.5 657.5,532.2 658.9,531.6 660.3,530.1 661.7,531.0 663.1,530.3 664.5,532.6 665.9,532.9 667.3,533.6 668.7,532.9 670.1,531.1 671.5,530.9 672.9,530.2 674.3,530.6 675.7,531.1 677.1,531.7 678.5,532.5 679.9,532.5 681.3,531.7 682.7,530.6 684.1,532.1 685.5,532.9 686.9,536.1 688.3,534.6 689.7,534.7 691.1,534.3 692.5,536.8 693.9,538.3 695.3,538.6 696.7,536.1 698.1,535.8 699.5,536.9 700.9,536.3 702.3,536.2 703.7,536.7 705.1,537.8 706.5,537.8 707.9,537.7 709.3,539.3 710.7,539.3 712.1,538.4 713.5,537.8 714.9,538.4 716.3,537.6 717.7,538.7 719.1,537.3 720.5,537.4 721.9,536.8 723.3,535.6 724.7,536.7 726.1,536.3 727.5,537.9 728.9,535.8 730.3,536.1 731.7,535.9 733.1,537.9 734.5,539.6 735.9,540.1 737.3,538.9 738.7,537.4 740.1,537.6 741.5,538.8 742.9,537.1 744.3,538.0 745.7,537.5 747.1,539.0 748.5,537.1 749.9,538.0 751.3,539.7 752.7,541.5 754.1,541.3 755.5,541.1 756.9,541.1 758.3,541.3 759.7,539.6 761.1,540.2 762.5,537.2 763.9,539.3 765.3,540.1 766.7,543.6 768.1,541.8 769.5,540.1 770.9,539.6 772.3,539.6 773.7,540.3 775.1,539.8 776.5,542.0 777.9,541.3 779.3,540.9 780.7,540.1 782.1,541.5 783.5,541.8 784.9,540.0 786.3,537.9 787.7,536.7 789.1,538.1 790.5,538.4" fill="none" stroke="#a8e03c" stroke-width="5.7" stroke-linejoin="round" stroke-linecap="round"/>
<polyline points="139.5,541.2 140.9,541.8 142.3,542.1 143.7,543.5 145.1,543.0 146.5,543.2 147.9,541.7 149.3,541.6 150.7,541.6 152.1,541.3 153.5,541.6 154.9,540.5 156.3,543.5 157.7,544.1 159.1,547.2 160.5,547.1 161.9,546.9 163.3,545.6 164.7,543.2 166.1,543.1 167.5,544.5 168.9,543.7 170.3,544.9 171.7,543.1 173.1,542.9 174.5,542.5 175.9,542.3 177.3,544.0 178.7,541.3 180.1,542.5 181.5,541.3 182.9,543.8 184.3,541.5 185.7,541.3 187.1,539.1 188.5,540.9 189.9,540.5 191.3,541.2 192.7,540.9 194.1,541.4 195.5,541.9 196.9,542.2 198.3,541.0 199.7,541.8 201.1,540.4 202.5,541.2 203.9,541.9 205.3,542.3 206.7,542.9 208.1,541.8 209.5,541.8 210.9,541.8 212.3,540.8 213.7,541.2 215.1,540.2 216.5,541.4 217.9,541.6 219.3,543.4 220.7,542.3 222.1,541.7 223.5,542.2 224.9,541.4 226.3,542.9 227.7,541.0 229.1,541.0 230.5,540.1 231.9,543.1 233.3,544.7 234.7,544.7 236.1,542.8 237.5,543.0 238.9,542.4 240.3,540.0 241.7,537.8 243.1,538.2 244.5,539.3 245.9,540.0 247.3,541.5 248.7,541.9 250.1,541.5 251.5,540.1 252.9,541.5 254.3,543.8 255.7,544.4 257.1,542.8 258.5,540.7 259.9,538.8 261.3,538.5 262.7,539.8 264.1,541.4 265.5,542.3 266.9,540.3 268.3,539.6 269.7,538.6 271.1,541.0 272.5,541.0 273.9,541.6 275.3,540.0 276.7,539.9 278.1,540.0 279.5,539.5 280.9,539.7 282.3,539.6 283.7,541.0 285.1,541.2 286.5,541.7 287.9,540.3 289.3,539.7 290.7,536.8 292.1,536.4 293.5,535.9 294.9,535.6 296.3,537.6 297.7,538.8 299.1,541.3 300.5,542.4 301.9,539.8 303.3,539.7 304.7,537.4 306.1,538.4 307.5,539.7 308.9,540.6 310.3,541.4 311.7,539.0 313.1,538.0 314.5,537.5 315.9,538.9 317.3,537.1 318.7,536.0 320.1,536.4 321.5,537.8 322.9,538.7 324.3,537.4 325.7,534.6 327.1,536.0 328.5,534.4 329.9,535.8 331.3,534.8 332.7,537.5 334.1,539.7 335.5,538.6 336.9,536.3 338.3,535.6 339.7,536.2 341.1,535.1 342.5,535.7 343.9,533.5 345.3,535.5 346.7,534.3 348.1,536.8 349.5,536.4 350.9,536.8 352.3,536.2 353.7,535.0 355.1,533.4 356.5,534.4 357.9,533.2 359.3,534.3 360.7,532.2 362.1,532.2 363.5,530.4 364.9,531.3 366.3,530.1 367.7,531.6 369.1,532.2 370.5,534.3 371.9,532.9 373.3,531.5 374.7,532.5 376.1,531.6 377.5,530.9 378.9,530.1 380.3,529.4 381.7,529.9 383.1,529.3 384.5,531.3 385.9,529.6 387.3,529.3 388.7,528.6 390.1,529.5 391.5,528.2 392.9,528.6 394.3,528.2 395.7,529.0 397.1,527.6 398.5,528.1 399.9,527.7 401.3,526.6 402.7,526.4 404.1,525.8 405.5,526.2 406.9,525.2 408.3,523.6 409.7,523.2 411.1,522.9 412.5,522.1 413.9,521.3 415.3,520.4 416.7,522.0 418.1,521.5 419.5,521.1 420.9,520.4 422.3,519.0 423.7,517.6 425.1,516.0 426.5,517.3 427.9,518.7 429.3,518.4 430.7,516.8 432.1,514.3 433.5,513.5 434.9,514.4 436.3,513.9 437.7,512.4 439.1,511.4 440.5,510.4 441.9,509.8 443.3,506.3 444.7,506.3 446.1,505.1 447.5,502.9 448.9,498.5 450.3,497.6 451.7,497.5 453.1,498.6 454.5,497.1 455.9,497.5 457.3,496.6 458.7,493.2 460.1,489.4 461.5,485.1 462.9,484.8 464.3,481.3 465.7,480.1 467.1,474.9 468.5,474.6 469.9,471.8 471.3,468.7 472.7,465.0 474.1,460.8 475.5,457.1 476.9,453.6 478.3,449.6 479.7,446.5 481.1,442.0 482.5,438.7 483.9,433.7 485.3,429.4 486.7,424.4 488.1,420.2 489.5,416.2 490.9,412.4 492.3,409.0 493.7,405.7 495.1,402.8 496.5,401.6 497.9,401.0 499.3,400.5 500.7,400.2 502.1,399.9 503.5,401.1 504.9,402.5 506.3,404.8 507.7,406.9 509.1,408.5 510.5,410.7 511.9,412.9 513.3,415.3 514.7,417.1 516.1,420.4 517.5,423.5 518.9,426.7 520.3,429.0 521.7,432.0 523.1,434.8 524.5,438.6 525.9,441.2 527.3,443.5 528.7,446.2 530.1,448.9 531.5,451.8 532.9,453.8 534.3,456.1 535.7,457.5 537.1,459.5 538.5,462.1 539.9,465.4 541.3,467.1 542.7,468.4 544.1,470.1 545.5,473.0 546.9,476.7 548.3,478.1 549.7,477.1 551.1,477.9 552.5,478.6 553.9,480.6 555.3,481.4 556.7,482.9 558.1,483.1 559.5,486.4 560.9,488.6 562.3,490.8 563.7,490.5 565.1,491.8 566.5,493.2 567.9,494.0 569.3,491.6 570.7,490.5 572.1,492.6 573.5,496.0 574.9,497.9 576.3,496.4 577.7,498.1 579.1,498.5 580.5,501.2 581.9,501.2 583.3,502.6 584.7,502.1 586.1,503.2 587.5,503.1 588.9,504.3 590.3,504.5 591.7,507.6 593.1,508.4 594.5,509.3 595.9,509.4 597.3,508.0 598.7,507.6 600.1,507.2 601.5,509.4 602.9,511.7 604.3,512.0 605.7,513.9 607.1,514.5 608.5,515.2 609.9,515.5 611.3,516.4 612.7,518.1 614.1,518.3 615.5,515.6 616.9,514.5 618.3,514.8 619.7,517.2 621.1,518.4 622.5,518.9 623.9,518.0 625.3,518.8 626.7,520.1 628.1,521.4 629.5,521.2 630.9,521.5 632.3,521.5 633.7,522.2 635.1,522.7 636.5,522.7 637.9,522.6 639.3,521.1 640.7,521.1 642.1,519.6 643.5,520.9 644.9,524.8 646.3,526.6 647.7,528.1 649.1,527.0 650.5,527.2 651.9,526.8 653.3,525.6 654.7,524.2 656.1,524.4 657.5,524.8 658.9,527.0 660.3,527.1 661.7,528.5 663.1,528.8 664.5,528.6 665.9,528.2 667.3,527.8 668.7,528.5 670.1,527.8 671.5,529.2 672.9,529.6 674.3,531.3 675.7,529.2 677.1,527.8 678.5,526.7 679.9,528.0 681.3,528.7 682.7,529.1 684.1,530.2 685.5,532.7 686.9,533.2 688.3,533.4 689.7,530.6 691.1,530.3 692.5,530.1 693.9,531.7 695.3,530.9 696.7,531.0 698.1,529.5 699.5,529.2 700.9,530.2 702.3,531.2 703.7,533.4 705.1,534.5 706.5,536.2 707.9,535.9 709.3,534.8 710.7,533.0 712.1,533.0 713.5,531.2 714.9,532.6 716.3,533.0 717.7,535.7 719.1,536.8 720.5,536.0 721.9,535.3 723.3,533.4 724.7,535.6 726.1,535.3 727.5,537.3 728.9,538.5 730.3,540.8 731.7,541.2 733.1,539.4 734.5,537.5 735.9,534.3 737.3,534.3 738.7,532.7 740.1,533.2 741.5,534.3 742.9,537.0 744.3,536.9 745.7,538.0 747.1,536.0 748.5,536.1 749.9,535.5 751.3,538.2 752.7,539.2 754.1,538.5 755.5,535.4 756.9,536.5 758.3,535.4 759.7,538.0 761.1,536.7 762.5,536.8 763.9,536.6 765.3,538.0 766.7,538.2 768.1,536.1 769.5,535.8 770.9,537.6 772.3,539.9 773.7,538.3 775.1,537.1 776.5,536.6 777.9,539.6 779.3,539.4 780.7,538.9 782.1,539.1 783.5,538.0 784.9,537.7 786.3,535.2 787.7,537.6 789.1,537.6 790.5,539.3" fill="none" stroke="#10e010" stroke-width="5.8" stroke-linejoin="round" stroke-linecap="round"/>
<polyline points="139.5,539.6 140.9,539.7 142.3,538.9 143.7,538.7 145.1,539.3 146.5,537.6 147.9,539.3 149.3,539.3 150.7,539.9 152.1,538.1 153.5,537.9 154.9,537.0 156.3,538.0 157.7,536.3 159.1,538.5 160.5,535.4 161.9,535.6 163.3,535.9 164.7,536.3 166.1,537.7 167.5,536.7 168.9,539.6 170.3,541.4 171.7,542.0 173.1,541.1 174.5,540.5 175.9,540.6 177.3,538.4 178.7,537.8 180.1,535.8 181.5,540.2 182.9,540.8 184.3,540.9 185.7,540.1 187.1,537.8 188.5,539.1 189.9,535.9 191.3,536.4 192.7,536.1 194.1,535.9 195.5,536.9 196.9,537.7 198.3,540.7 199.7,541.2 201.1,540.5 202.5,539.7 203.9,537.7 205.3,536.7 206.7,537.2 208.1,536.9 209.5,536.8 210.9,536.3 212.3,537.3 213.7,536.6 215.1,534.9 216.5,534.3 217.9,534.2 219.3,534.2 220.7,535.7 222.1,536.3 223.5,537.1 224.9,535.6 226.3,535.9 227.7,536.4 229.1,537.5 230.5,537.4 231.9,536.4 233.3,537.1 234.7,536.8 236.1,535.6 237.5,535.1 238.9,536.2 240.3,537.5 241.7,536.2 243.1,536.8 244.5,538.2 245.9,539.1 247.3,537.7 248.7,537.1 250.1,538.4 251.5,537.7 252.9,537.8 254.3,533.8 255.7,533.9 257.1,533.6 258.5,535.8 259.9,535.1 261.3,535.2 262.7,535.8 264.1,537.7 265.5,536.5 266.9,535.5 268.3,534.4 269.7,535.1 271.1,535.3 272.5,535.3 273.9,535.7 275.3,536.7 276.7,536.9 278.1,537.4 279.5,534.4 280.9,536.8 282.3,534.5 283.7,535.8 285.1,533.6 286.5,535.5 287.9,536.0 289.3,533.8 290.7,532.3 292.1,530.8 293.5,533.3 294.9,533.2 296.3,531.8 297.7,530.0 299.1,530.6 300.5,531.9 301.9,533.1 303.3,531.0 304.7,531.7 306.1,532.2 307.5,533.8 308.9,533.0 310.3,531.1 311.7,532.0 313.1,533.7 314.5,534.7 315.9,534.3 317.3,533.5 318.7,533.0 320.1,532.0 321.5,531.5 322.9,532.6 324.3,531.6 325.7,534.2 327.1,533.8 328.5,534.4 329.9,533.5 331.3,534.3 332.7,534.8 334.1,531.9 335.5,530.1 336.9,529.7 338.3,530.2 339.7,528.5 341.1,527.3 342.5,528.0 343.9,529.2 345.3,530.9 346.7,529.3 348.1,530.0 349.5,528.1 350.9,529.7 352.3,529.0 353.7,531.2 355.1,531.2 356.5,530.5 357.9,529.0 359.3,526.7 360.7,526.9 362.1,527.0 363.5,528.7 364.9,527.9 366.3,527.5 367.7,527.3 369.1,528.0 370.5,526.5 371.9,526.8 373.3,526.2 374.7,525.8 376.1,524.6 377.5,525.5 378.9,528.1 380.3,527.7 381.7,525.5 383.1,523.3 384.5,524.0 385.9,526.0 387.3,526.2 388.7,525.0 390.1,524.8 391.5,524.9 392.9,524.0 394.3,522.0 395.7,522.2 397.1,522.3 398.5,522.3 399.9,520.3 401.3,520.9 402.7,522.0 404.1,523.6 405.5,522.3 406.9,519.3 408.3,519.1 409.7,519.9 411.1,519.1 412.5,518.7 413.9,517.1 415.3,517.6 416.7,515.7 418.1,514.3 419.5,513.4 420.9,514.4 422.3,515.0 423.7,516.2 425.1,515.6 426.5,515.7 427.9,514.6 429.3,513.3 430.7,514.1 432.1,514.1 433.5,512.5 434.9,512.2 436.3,512.6 437.7,511.1 439.1,508.8 440.5,509.1 441.9,508.2 443.3,505.6 444.7,503.2 446.1,503.4 447.5,502.4 448.9,502.4 450.3,501.9 451.7,503.1 453.1,501.9 454.5,500.2 455.9,498.7 457.3,498.1 458.7,497.4 460.1,496.7 461.5,494.5 462.9,492.4 464.3,491.5 465.7,489.9 467.1,490.0 468.5,487.7 469.9,487.2 471.3,484.7 472.7,483.7 474.1,482.3 475.5,481.3 476.9,480.6 478.3,478.4 479.7,476.8 481.1,474.8 482.5,473.9 483.9,472.8 485.3,471.4 486.7,469.5 488.1,467.7 489.5,465.7 490.9,464.6 492.3,463.8 493.7,463.1 495.1,462.7 496.5,461.1 497.9,460.1 499.3,459.2 500.7,459.0 502.1,459.0 503.5,458.8 504.9,459.3 506.3,459.4 507.7,459.7 509.1,459.1 510.5,459.9 511.9,460.1 513.3,461.3 514.7,461.6 516.1,463.1 517.5,464.3 518.9,466.1 520.3,467.0 521.7,468.3 523.1,469.9 524.5,470.8 525.9,471.5 527.3,472.4 528.7,474.2 530.1,476.0 531.5,476.0 532.9,477.2 534.3,478.9 535.7,481.5 537.1,482.9 538.5,483.7 539.9,484.4 541.3,485.5 542.7,486.8 544.1,487.4 545.5,489.3 546.9,489.9 548.3,492.3 549.7,493.1 551.1,494.3 552.5,494.6 553.9,495.4 555.3,497.1 556.7,497.8 558.1,498.8 559.5,499.5 560.9,501.2 562.3,501.9 563.7,501.5 565.1,502.1 566.5,501.4 567.9,501.7 569.3,503.5 570.7,505.8 572.1,507.9 573.5,507.2 574.9,507.8 576.3,508.7 577.7,508.6 579.1,507.7 580.5,506.2 581.9,508.2 583.3,510.0 584.7,513.6 586.1,515.0 587.5,512.6 588.9,511.4 590.3,510.4 591.7,514.6 593.1,513.7 594.5,513.0 595.9,511.4 597.3,513.6 598.7,515.1 600.1,517.2 601.5,519.0 602.9,518.6 604.3,517.8 605.7,516.6 607.1,519.0 608.5,519.0 609.9,519.1 611.3,517.6 612.7,520.3 614.1,521.5 615.5,524.8 616.9,525.1 618.3,525.1 619.7,524.3 621.1,523.8 622.5,523.6 623.9,522.8 625.3,522.0 626.7,522.5 628.1,523.3 629.5,525.2 630.9,525.3 632.3,525.5 633.7,526.3 635.1,525.9 636.5,524.7 637.9,525.7 639.3,525.3 640.7,526.0 642.1,525.4 643.5,526.6 644.9,526.8 646.3,525.4 647.7,525.6 649.1,525.3 650.5,523.5 651.9,523.0 653.3,522.9 654.7,524.5 656.1,524.8 657.5,527.0 658.9,528.4 660.3,528.8 661.7,529.9 663.1,531.5 664.5,530.5 665.9,527.8 667.3,527.8 668.7,530.0 670.1,531.2 671.5,529.0 672.9,528.8 674.3,530.0 675.7,531.2 677.1,531.3 678.5,529.8 679.9,528.9 681.3,530.3 682.7,530.5 684.1,531.0 685.5,530.1 686.9,530.9 688.3,529.9 689.7,532.7 691.1,533.3 692.5,536.4 693.9,532.5 695.3,530.3 696.7,528.9 698.1,529.9 699.5,530.7 700.9,532.4 702.3,531.6 703.7,531.0 705.1,531.4 706.5,533.1 707.9,533.4 709.3,532.6 710.7,531.5 712.1,532.5 713.5,531.3 714.9,532.2 716.3,534.7 717.7,534.2 719.1,533.4 720.5,530.3 721.9,531.2 723.3,531.0 724.7,532.4 726.1,534.1 727.5,537.3 728.9,537.1 730.3,535.9 731.7,533.3 733.1,533.3 734.5,533.9 735.9,532.5 737.3,532.0 738.7,530.3 740.1,531.5 741.5,531.9 742.9,533.2 744.3,534.0 745.7,537.5 747.1,538.6 748.5,538.1 749.9,534.9 751.3,533.0 752.7,534.2 754.1,534.5 755.5,536.0 756.9,535.9 758.3,537.3 759.7,536.5 761.1,536.5 762.5,535.7 763.9,536.1 765.3,536.0 766.7,536.3 768.1,536.9 769.5,537.3 770.9,537.4 772.3,536.3 773.7,535.6 775.1,536.2 776.5,537.9 777.9,538.1 779.3,538.4 780.7,536.8 782.1,538.6 783.5,538.1 784.9,538.5 786.3,537.6 787.7,536.1 789.1,535.7 790.5,534.6" fill="none" stroke="#14cd87" stroke-width="5.8" stroke-linejoin="round" stroke-linecap="round"/>
<polyline points="139.5,539.1 140.9,538.3 142.3,536.6 143.7,536.6 145.1,535.5 146.5,537.9 147.9,538.9 149.3,539.3 150.7,537.3 152.1,538.2 153.5,539.0 154.9,538.3 156.3,535.9 157.7,535.2 159.1,536.3 160.5,535.6 161.9,536.8 163.3,536.3 164.7,539.6 166.1,539.9 167.5,538.9 168.9,536.1 170.3,535.2 171.7,535.0 173.1,534.6 174.5,536.3 175.9,537.3 177.3,537.9 178.7,536.5 180.1,537.7 181.5,538.5 182.9,539.2 184.3,538.1 185.7,539.2 187.1,539.6 188.5,540.0 189.9,538.6 191.3,537.2 192.7,537.1 194.1,536.0 195.5,536.3 196.9,535.8 198.3,536.2 199.7,535.0 201.1,536.2 202.5,535.9 203.9,537.8 205.3,535.7 206.7,535.6 208.1,534.4 209.5,535.9 210.9,535.9 212.3,538.5 213.7,538.4 215.1,538.0 216.5,535.7 217.9,537.9 219.3,540.9 220.7,540.7 222.1,538.7 223.5,539.4 224.9,539.7 226.3,540.1 227.7,536.7 229.1,535.9 230.5,536.0 231.9,535.2 233.3,536.1 234.7,535.4 236.1,537.4 237.5,537.3 238.9,537.9 240.3,539.5 241.7,537.9 243.1,538.4 244.5,536.6 245.9,538.0 247.3,537.3 248.7,537.8 250.1,538.9 251.5,537.8 252.9,538.4 254.3,537.2 255.7,535.9 257.1,533.9 258.5,535.5 259.9,537.3 261.3,539.4 262.7,538.3 264.1,538.0 265.5,540.1 266.9,541.5 268.3,540.9 269.7,538.1 271.1,537.0 272.5,535.8 273.9,534.3 275.3,535.4 276.7,539.0 278.1,541.9 279.5,539.7 280.9,538.7 282.3,537.5 283.7,538.4 285.1,537.5 286.5,537.4 287.9,535.5 289.3,532.9 290.7,532.1 292.1,535.7 293.5,537.4 294.9,537.1 296.3,535.6 297.7,535.6 299.1,536.6 300.5,535.9 301.9,536.5 303.3,535.1 304.7,535.8 306.1,537.1 307.5,539.6 308.9,538.9 310.3,536.9 311.7,535.6 313.1,536.9 314.5,536.9 315.9,537.3 317.3,538.8 318.7,541.1 320.1,539.2 321.5,536.3 322.9,533.8 324.3,533.9 325.7,536.9 327.1,538.2 328.5,538.9 329.9,536.7 331.3,535.8 332.7,538.4 334.1,538.8 335.5,539.9 336.9,539.0 338.3,539.2 339.7,539.7 341.1,536.8 342.5,535.2 343.9,536.6 345.3,537.8 346.7,537.7 348.1,534.7 349.5,536.0 350.9,536.2 352.3,536.6 353.7,537.1 355.1,536.4 356.5,537.9 357.9,537.3 359.3,538.7 360.7,538.7 362.1,538.3 363.5,537.8 364.9,538.6 366.3,538.4 367.7,538.9 369.1,536.8 370.5,536.2 371.9,536.1 373.3,535.1 374.7,536.8 376.1,537.3 377.5,539.3 378.9,538.2 380.3,535.7 381.7,534.3 383.1,537.2 384.5,537.4 385.9,538.7 387.3,536.1 388.7,537.4 390.1,535.4 391.5,533.6 392.9,533.1 394.3,534.3 395.7,535.6 397.1,536.5 398.5,535.5 399.9,534.2 401.3,533.7 402.7,534.3 404.1,533.3 405.5,534.0 406.9,534.6 408.3,538.1 409.7,536.7 411.1,536.4 412.5,533.8 413.9,532.2 415.3,532.9 416.7,532.7 418.1,531.3 419.5,527.8 420.9,527.0 422.3,527.1 423.7,526.1 425.1,524.7 426.5,523.6 427.9,524.0 429.3,523.9 430.7,525.4 432.1,526.4 433.5,528.1 434.9,528.7 436.3,530.2 437.7,531.0 439.1,530.1 440.5,529.6 441.9,528.7 443.3,530.4 444.7,528.8 446.1,529.8 447.5,531.6 448.9,532.2 450.3,533.6 451.7,531.2 453.1,530.6 454.5,528.7 455.9,530.5 457.3,529.9 458.7,529.0 460.1,528.4 461.5,529.2 462.9,528.7 464.3,526.8 465.7,526.7 467.1,525.5 468.5,525.9 469.9,525.9 471.3,525.6 472.7,525.2 474.1,525.3 475.5,526.0 476.9,526.2 478.3,525.3 479.7,524.7 481.1,524.7 482.5,523.4 483.9,523.4 485.3,522.5 486.7,522.3 488.1,521.4 489.5,520.2 490.9,520.2 492.3,519.5 493.7,520.7 495.1,520.1 496.5,521.0 497.9,520.4 499.3,521.4 500.7,520.6 502.1,520.1 503.5,518.2 504.9,517.6 506.3,517.3 507.7,517.4 509.1,517.5 510.5,517.3 511.9,517.5 513.3,517.9 514.7,518.2 516.1,518.5 517.5,518.4 518.9,519.0 520.3,518.7 521.7,518.5 523.1,517.8 524.5,518.1 525.9,518.5 527.3,519.0 528.7,519.6 530.1,518.9 531.5,518.8 532.9,518.6 534.3,520.0 535.7,520.8 537.1,521.8 538.5,522.2 539.9,522.5 541.3,521.9 542.7,521.5 544.1,521.9 545.5,522.0 546.9,522.9 548.3,523.8 549.7,525.2 551.1,526.0 552.5,526.2 553.9,526.2 555.3,526.6 556.7,526.2 558.1,527.1 559.5,525.6 560.9,526.1 562.3,525.3 563.7,526.7 565.1,526.7 566.5,527.5 567.9,528.0 569.3,528.8 570.7,529.4 572.1,529.4 573.5,529.5 574.9,527.1 576.3,524.6 577.7,523.8 579.1,526.6 580.5,531.1 581.9,532.8 583.3,531.9 584.7,530.9 586.1,531.6 587.5,531.4 588.9,531.3 590.3,530.7 591.7,531.2 593.1,530.7 594.5,531.9 595.9,533.4 597.3,534.5 598.7,533.0 600.1,532.1 601.5,532.4 602.9,534.4 604.3,536.8 605.7,536.9 607.1,535.2 608.5,533.0 609.9,534.1 611.3,534.9 612.7,537.2 614.1,535.5 615.5,533.9 616.9,532.0 618.3,532.3 619.7,535.6 621.1,536.0 622.5,536.9 623.9,536.8 625.3,536.6 626.7,535.7 628.1,535.0 629.5,533.8 630.9,534.5 632.3,534.2 633.7,534.9 635.1,533.1 636.5,532.4 637.9,532.5 639.3,533.5 640.7,535.0 642.1,535.6 643.5,535.0 644.9,535.4 646.3,535.9 647.7,537.1 649.1,534.0 650.5,534.6 651.9,533.5 653.3,536.1 654.7,535.1 656.1,537.1 657.5,536.3 658.9,538.0 660.3,536.4 661.7,536.6 663.1,534.5 664.5,536.5 665.9,537.0 667.3,539.6 668.7,539.0 670.1,539.1 671.5,536.1 672.9,535.8 674.3,535.8 675.7,537.2 677.1,534.6 678.5,535.4 679.9,533.4 681.3,535.3 682.7,531.0 684.1,532.5 685.5,534.4 686.9,538.4 688.3,539.0 689.7,537.9 691.1,535.9 692.5,535.8 693.9,537.5 695.3,538.5 696.7,538.6 698.1,535.4 699.5,535.6 700.9,536.9 702.3,537.4 703.7,537.9 705.1,537.1 706.5,538.2 707.9,537.4 709.3,537.7 710.7,536.0 712.1,538.5 713.5,538.8 714.9,538.5 716.3,538.5 717.7,537.1 719.1,538.7 720.5,536.5 721.9,536.5 723.3,537.4 724.7,537.4 726.1,538.1 727.5,536.4 728.9,534.5 730.3,534.3 731.7,536.7 733.1,538.8 734.5,538.6 735.9,536.2 737.3,534.9 738.7,535.3 740.1,535.4 741.5,536.3 742.9,536.1 744.3,537.8 745.7,538.1 747.1,537.6 748.5,537.5 749.9,538.1 751.3,542.0 752.7,540.1 754.1,539.9 755.5,535.3 756.9,538.0 758.3,538.6 759.7,542.0 761.1,541.1 762.5,541.9 763.9,538.6 765.3,538.4 766.7,536.6 768.1,539.8 769.5,539.5 770.9,541.2 772.3,538.1 773.7,535.9 775.1,535.9 776.5,537.0 777.9,539.8 779.3,539.6 780.7,541.3 782.1,541.5 783.5,540.4 784.9,538.6 786.3,539.3 787.7,539.3 789.1,538.6 790.5,538.1" fill="none" stroke="#20c4c4" stroke-width="5.8" stroke-linejoin="round" stroke-linecap="round"/>
<polyline points="139.5,550.6 140.9,549.3 142.3,553.3 143.7,554.4 145.1,552.9 146.5,553.1 147.9,552.0 149.3,554.8 150.7,552.1 152.1,555.0 153.5,554.4 154.9,555.5 156.3,555.7 157.7,554.7 159.1,554.4 160.5,552.1 161.9,552.4 163.3,551.2 164.7,553.1 166.1,554.0 167.5,554.9 168.9,553.8 170.3,553.5 171.7,553.7 173.1,552.2 174.5,551.0 175.9,551.0 177.3,552.4 178.7,554.7 180.1,555.8 181.5,556.0 182.9,554.9 184.3,555.0 185.7,556.6 187.1,557.2 188.5,556.2 189.9,555.8 191.3,554.6 192.7,554.6 194.1,553.6 195.5,554.1 196.9,554.2 198.3,554.3 199.7,552.8 201.1,552.6 202.5,550.8 203.9,552.1 205.3,551.4 206.7,553.1 208.1,553.3 209.5,554.1 210.9,553.4 212.3,551.0 213.7,551.3 215.1,553.8 216.5,555.9 217.9,553.7 219.3,553.7 220.7,554.2 222.1,555.2 223.5,551.2 224.9,551.6 226.3,554.6 227.7,556.9 229.1,555.5 230.5,553.2 231.9,554.0 233.3,554.2 234.7,553.2 236.1,552.0 237.5,553.1 238.9,553.1 240.3,552.2 241.7,553.1 243.1,553.4 244.5,551.0 245.9,550.0 247.3,550.9 248.7,554.3 250.1,552.7 251.5,553.2 252.9,553.0 254.3,555.4 255.7,554.8 257.1,555.6 258.5,556.4 259.9,556.8 261.3,554.7 262.7,553.8 264.1,553.9 265.5,557.0 266.9,558.7 268.3,558.8 269.7,559.1 271.1,556.1 272.5,554.4 273.9,552.6 275.3,552.5 276.7,554.1 278.1,554.9 279.5,556.2 280.9,555.9 282.3,554.5 283.7,551.2 285.1,550.6 286.5,552.9 287.9,554.8 289.3,554.0 290.7,552.4 292.1,553.7 293.5,555.1 294.9,554.6 296.3,553.7 297.7,552.6 299.1,553.1 300.5,553.9 301.9,554.6 303.3,555.6 304.7,553.1 306.1,554.3 307.5,551.8 308.9,550.5 310.3,548.9 311.7,551.6 313.1,554.5 314.5,556.2 315.9,556.8 317.3,558.1 318.7,556.5 320.1,555.3 321.5,552.7 322.9,552.9 324.3,553.1 325.7,555.2 327.1,553.3 328.5,549.5 329.9,548.0 331.3,549.4 332.7,553.8 334.1,554.6 335.5,555.2 336.9,555.4 338.3,554.4 339.7,554.6 341.1,554.7 342.5,557.7 343.9,559.1 345.3,557.3 346.7,556.4 348.1,554.1 349.5,554.6 350.9,552.1 352.3,551.6 353.7,549.9 355.1,550.5 356.5,549.8 357.9,550.8 359.3,550.7 360.7,553.3 362.1,551.9 363.5,552.6 364.9,552.5 366.3,555.5 367.7,555.5 369.1,555.2 370.5,555.0 371.9,555.5 373.3,556.0 374.7,556.7 376.1,558.6 377.5,558.0 378.9,556.7 380.3,555.2 381.7,554.5 383.1,554.4 384.5,552.5 385.9,553.3 387.3,553.4 388.7,554.6 390.1,554.2 391.5,553.3 392.9,553.3 394.3,552.8 395.7,552.8 397.1,552.8 398.5,552.7 399.9,550.6 401.3,549.6 402.7,547.6 404.1,550.1 405.5,553.0 406.9,556.3 408.3,554.0 409.7,554.2 411.1,553.2 412.5,555.3 413.9,553.0 415.3,552.6 416.7,551.6 418.1,551.3 419.5,552.1 420.9,554.2 422.3,554.9 423.7,554.1 425.1,553.9 426.5,552.2 427.9,553.6 429.3,555.6 430.7,556.2 432.1,556.1 433.5,556.7 434.9,555.3 436.3,553.2 437.7,553.2 439.1,556.7 440.5,559.3 441.9,556.0 443.3,554.1 444.7,552.1 446.1,553.4 447.5,553.3 448.9,553.0 450.3,551.0 451.7,552.2 453.1,553.0 454.5,554.8 455.9,551.9 457.3,552.3 458.7,552.0 460.1,555.0 461.5,555.5 462.9,555.1 464.3,555.1 465.7,554.3 467.1,555.1 468.5,555.9 469.9,557.1 471.3,555.9 472.7,554.1 474.1,553.7 475.5,556.2 476.9,556.4 478.3,555.7 479.7,553.1 481.1,551.2 482.5,551.5 483.9,551.9 485.3,552.2 486.7,552.6 488.1,552.7 489.5,555.8 490.9,554.9 492.3,554.6 493.7,554.5 495.1,554.4 496.5,556.2 497.9,555.6 499.3,554.2 500.7,551.5 502.1,549.4 503.5,552.0 504.9,552.8 506.3,556.2 507.7,556.7 509.1,558.6 510.5,556.7 511.9,556.6 513.3,556.3 514.7,556.0 516.1,554.6 517.5,552.7 518.9,552.6 520.3,551.8 521.7,550.8 523.1,550.6 524.5,551.4 525.9,552.7 527.3,553.9 528.7,555.4 530.1,558.0 531.5,556.3 532.9,556.0 534.3,554.5 535.7,556.4 537.1,555.8 538.5,555.0 539.9,552.8 541.3,552.6 542.7,554.1 544.1,555.4 545.5,554.5 546.9,552.3 548.3,553.6 549.7,554.5 551.1,557.3 552.5,554.8 553.9,553.9 555.3,550.2 556.7,552.1 558.1,551.7 559.5,553.4 560.9,553.0 562.3,554.5 563.7,554.8 565.1,552.4 566.5,553.5 567.9,553.4 569.3,556.2 570.7,554.0 572.1,555.6 573.5,554.6 574.9,555.1 576.3,552.0 577.7,553.0 579.1,550.8 580.5,554.2 581.9,552.8 583.3,556.7 584.7,556.1 586.1,558.3 587.5,555.0 588.9,554.2 590.3,551.9 591.7,553.1 593.1,553.1 594.5,553.1 595.9,555.6 597.3,554.5 598.7,554.9 600.1,554.6 601.5,554.8 602.9,555.7 604.3,555.4 605.7,555.8 607.1,554.5 608.5,553.2 609.9,554.7 611.3,555.4 612.7,553.4 614.1,553.4 615.5,550.9 616.9,552.2 618.3,548.7 619.7,549.6 621.1,550.5 622.5,553.0 623.9,554.1 625.3,552.6 626.7,552.7 628.1,553.4 629.5,552.7 630.9,552.8 632.3,551.5 633.7,552.8 635.1,551.5 636.5,551.6 637.9,552.1 639.3,553.4 640.7,553.8 642.1,554.1 643.5,553.2 644.9,553.2 646.3,554.6 647.7,556.5 649.1,557.5 650.5,555.3 651.9,555.5 653.3,554.3 654.7,553.8 656.1,551.8 657.5,552.7 658.9,554.2 660.3,554.5 661.7,553.0 663.1,553.8 664.5,553.6 665.9,554.5 667.3,554.4 668.7,555.8 670.1,555.4 671.5,554.7 672.9,553.8 674.3,554.2 675.7,554.1 677.1,554.2 678.5,553.8 679.9,554.1 681.3,551.5 682.7,551.6 684.1,552.9 685.5,554.6 686.9,553.8 688.3,550.5 689.7,552.1 691.1,553.2 692.5,556.6 693.9,556.8 695.3,556.9 696.7,556.6 698.1,554.9 699.5,554.8 700.9,552.7 702.3,552.2 703.7,553.0 705.1,554.7 706.5,554.8 707.9,555.4 709.3,555.0 710.7,554.4 712.1,552.3 713.5,551.1 714.9,552.5 716.3,553.1 717.7,553.2 719.1,553.0 720.5,553.8 721.9,555.3 723.3,555.7 724.7,554.5 726.1,552.8 727.5,551.8 728.9,552.5 730.3,553.4 731.7,555.8 733.1,556.1 734.5,556.0 735.9,553.3 737.3,550.2 738.7,548.1 740.1,548.5 741.5,551.9 742.9,555.9 744.3,557.1 745.7,556.8 747.1,555.2 748.5,554.6 749.9,554.2 751.3,553.1 752.7,551.9 754.1,553.2 755.5,554.2 756.9,557.5 758.3,557.3 759.7,560.1 761.1,558.8 762.5,556.7 763.9,555.9 765.3,554.2 766.7,556.0 768.1,553.8 769.5,553.8 770.9,553.4 772.3,552.4 773.7,553.6 775.1,553.8 776.5,554.3 777.9,553.0 779.3,552.1 780.7,552.5 782.1,553.5 783.5,552.3 784.9,552.3 786.3,550.3 787.7,550.5 789.1,550.1 790.5,551.8" fill="none" stroke="#20a4f0" stroke-width="5.8" stroke-linejoin="round" stroke-linecap="round"/>
<polyline points="139.5,553.7 140.9,553.8 142.3,553.9 143.7,552.6 145.1,551.5 146.5,552.2 147.9,552.0 149.3,551.6 150.7,551.3 152.1,551.7 153.5,551.6 154.9,551.0 156.3,551.8 157.7,552.8 159.1,552.1 160.5,550.5 161.9,548.1 163.3,550.0 164.7,552.1 166.1,551.9 167.5,550.4 168.9,548.7 170.3,549.1 171.7,550.9 173.1,551.6 174.5,554.0 175.9,555.6 177.3,555.8 178.7,553.9 180.1,549.6 181.5,551.4 182.9,553.2 184.3,554.1 185.7,551.9 187.1,550.9 188.5,553.3 189.9,555.4 191.3,554.7 192.7,554.5 194.1,553.4 195.5,553.9 196.9,553.2 198.3,554.1 199.7,555.0 201.1,554.2 202.5,553.9 203.9,551.0 205.3,551.1 206.7,549.9 208.1,553.7 209.5,552.6 210.9,551.3 212.3,550.4 213.7,550.9 215.1,552.6 216.5,551.8 217.9,550.7 219.3,550.9 220.7,552.0 222.1,553.2 223.5,552.0 224.9,549.6 226.3,552.0 227.7,553.3 229.1,555.1 230.5,552.8 231.9,551.8 233.3,552.5 234.7,555.6 236.1,555.1 237.5,554.4 238.9,552.9 240.3,554.2 241.7,554.0 243.1,553.6 244.5,555.8 245.9,556.2 247.3,555.2 248.7,551.6 250.1,549.9 251.5,548.3 252.9,550.1 254.3,551.9 255.7,554.4 257.1,555.5 258.5,556.4 259.9,556.3 261.3,553.3 262.7,553.5 264.1,554.3 265.5,555.9 266.9,551.9 268.3,552.3 269.7,551.3 271.1,551.5 272.5,550.1 273.9,552.0 275.3,555.6 276.7,555.0 278.1,554.8 279.5,553.3 280.9,553.6 282.3,551.4 283.7,553.1 285.1,551.2 286.5,553.6 287.9,551.8 289.3,552.9 290.7,550.5 292.1,550.7 293.5,550.6 294.9,550.2 296.3,549.7 297.7,550.6 299.1,552.5 300.5,552.4 301.9,551.0 303.3,549.1 304.7,549.3 306.1,550.7 307.5,551.8 308.9,552.0 310.3,552.2 311.7,553.4 313.1,554.2 314.5,555.1 315.9,554.4 317.3,552.6 318.7,551.7 320.1,551.6 321.5,552.3 322.9,552.8 324.3,551.3 325.7,551.4 327.1,550.3 328.5,553.1 329.9,552.7 331.3,553.6 332.7,554.1 334.1,555.5 335.5,556.0 336.9,554.5 338.3,554.0 339.7,554.0 341.1,553.2 342.5,551.2 343.9,551.1 345.3,550.5 346.7,552.4 348.1,551.5 349.5,554.0 350.9,555.8 352.3,554.9 353.7,554.3 355.1,551.8 356.5,553.4 357.9,553.0 359.3,554.4 360.7,552.5 362.1,552.4 363.5,552.0 364.9,553.4 366.3,554.4 367.7,554.1 369.1,552.5 370.5,549.5 371.9,548.1 373.3,550.4 374.7,552.5 376.1,552.4 377.5,550.9 378.9,550.4 380.3,551.0 381.7,550.0 383.1,549.6 384.5,551.9 385.9,553.6 387.3,554.7 388.7,552.5 390.1,553.5 391.5,552.4 392.9,553.6 394.3,554.1 395.7,554.3 397.1,553.7 398.5,552.5 399.9,552.3 401.3,550.0 402.7,549.2 404.1,548.1 405.5,552.2 406.9,552.2 408.3,554.7 409.7,553.9 411.1,553.1 412.5,553.1 413.9,553.1 415.3,555.5 416.7,554.4 418.1,552.7 419.5,550.7 420.9,550.2 422.3,550.5 423.7,550.1 425.1,552.0 426.5,552.3 427.9,553.8 429.3,552.7 430.7,552.8 432.1,552.0 433.5,552.0 434.9,550.9 436.3,550.7 437.7,551.5 439.1,553.6 440.5,553.1 441.9,551.0 443.3,550.9 444.7,551.0 446.1,551.5 447.5,550.6 448.9,550.6 450.3,551.0 451.7,551.8 453.1,552.3 454.5,552.6 455.9,552.3 457.3,553.6 458.7,551.9 460.1,553.5 461.5,552.0 462.9,553.4 464.3,550.4 465.7,551.4 467.1,553.4 468.5,555.2 469.9,551.7 471.3,549.6 472.7,548.4 474.1,551.2 475.5,551.9 476.9,552.4 478.3,553.3 479.7,553.3 481.1,553.7 482.5,553.8 483.9,553.8 485.3,553.1 486.7,552.0 488.1,551.6 489.5,551.8 490.9,552.8 492.3,552.2 493.7,553.0 495.1,552.1 496.5,549.4 497.9,549.1 499.3,550.8 500.7,551.7 502.1,549.1 503.5,549.4 504.9,552.4 506.3,553.5 507.7,552.8 509.1,551.7 510.5,551.1 511.9,548.9 513.3,550.7 514.7,551.6 516.1,552.7 517.5,551.7 518.9,553.1 520.3,554.3 521.7,552.0 523.1,552.1 524.5,552.5 525.9,554.9 527.3,554.3 528.7,552.4 530.1,550.8 531.5,549.6 532.9,550.7 534.3,550.9 535.7,552.3 537.1,551.2 538.5,554.8 539.9,555.8 541.3,557.0 542.7,554.9 544.1,554.5 545.5,554.5 546.9,554.2 548.3,553.0 549.7,552.3 551.1,550.8 552.5,551.8 553.9,551.5 555.3,552.6 556.7,551.0 558.1,551.9 559.5,552.8 560.9,551.6 562.3,549.5 563.7,547.8 565.1,547.2 566.5,550.4 567.9,551.0 569.3,551.3 570.7,550.6 572.1,552.6 573.5,554.0 574.9,551.7 576.3,550.8 577.7,551.2 579.1,553.7 580.5,554.0 581.9,555.0 583.3,556.8 584.7,556.9 586.1,555.8 587.5,553.4 588.9,551.0 590.3,552.8 591.7,551.6 593.1,553.9 594.5,556.0 595.9,556.7 597.3,556.2 598.7,553.3 600.1,551.8 601.5,551.7 602.9,550.9 604.3,554.3 605.7,552.8 607.1,553.2 608.5,551.3 609.9,552.3 611.3,551.4 612.7,552.2 614.1,552.8 615.5,554.8 616.9,553.8 618.3,550.8 619.7,550.4 621.1,550.5 622.5,551.8 623.9,550.5 625.3,552.0 626.7,551.3 628.1,551.6 629.5,549.9 630.9,551.1 632.3,552.9 633.7,551.9 635.1,551.9 636.5,550.5 637.9,549.8 639.3,551.0 640.7,550.9 642.1,554.0 643.5,552.7 644.9,551.1 646.3,550.7 647.7,550.4 649.1,552.0 650.5,550.7 651.9,553.2 653.3,553.8 654.7,554.8 656.1,555.4 657.5,554.5 658.9,555.2 660.3,553.1 661.7,553.3 663.1,553.4 664.5,553.1 665.9,554.2 667.3,553.5 668.7,554.3 670.1,553.9 671.5,552.3 672.9,551.7 674.3,552.5 675.7,557.5 677.1,557.8 678.5,556.8 679.9,553.2 681.3,552.9 682.7,553.0 684.1,552.5 685.5,554.0 686.9,553.7 688.3,553.9 689.7,552.8 691.1,552.0 692.5,552.4 693.9,553.1 695.3,554.4 696.7,554.3 698.1,554.2 699.5,550.1 700.9,550.2 702.3,548.1 703.7,550.6 705.1,550.1 706.5,552.4 707.9,553.1 709.3,555.6 710.7,556.3 712.1,555.6 713.5,552.0 714.9,551.1 716.3,551.4 717.7,554.7 719.1,554.5 720.5,554.8 721.9,555.9 723.3,557.1 724.7,555.5 726.1,551.7 727.5,551.1 728.9,551.2 730.3,552.7 731.7,552.0 733.1,552.1 734.5,553.1 735.9,552.5 737.3,553.3 738.7,552.9 740.1,554.5 741.5,555.4 742.9,554.0 744.3,552.2 745.7,552.5 747.1,552.5 748.5,552.9 749.9,551.9 751.3,552.5 752.7,555.2 754.1,556.7 755.5,557.7 756.9,557.0 758.3,555.8 759.7,553.4 761.1,550.6 762.5,551.5 763.9,552.3 765.3,554.4 766.7,554.7 768.1,556.0 769.5,553.9 770.9,552.9 772.3,552.7 773.7,553.2 775.1,551.9 776.5,549.8 777.9,549.9 779.3,549.7 780.7,549.8 782.1,550.2 783.5,551.6 784.9,552.4 786.3,550.1 787.7,549.4 789.1,548.5 790.5,550.8" fill="none" stroke="#2c3cff" stroke-width="5.8" stroke-linejoin="round" stroke-linecap="round"/>
<polyline points="139.5,547.3 140.9,549.4 142.3,551.7 143.7,551.0 145.1,550.6 146.5,553.5 147.9,554.1 149.3,554.5 150.7,552.5 152.1,553.9 153.5,550.4 154.9,548.0 156.3,547.5 157.7,550.0 159.1,550.2 160.5,551.2 161.9,550.6 163.3,550.3 164.7,549.5 166.1,547.8 167.5,551.8 168.9,552.2 170.3,555.1 171.7,552.3 173.1,553.3 174.5,553.5 175.9,554.0 177.3,552.0 178.7,548.5 180.1,546.5 181.5,546.8 182.9,548.6 184.3,547.4 185.7,547.9 187.1,549.6 188.5,551.1 189.9,550.1 191.3,549.0 192.7,548.4 194.1,549.9 195.5,550.8 196.9,552.6 198.3,551.2 199.7,550.4 201.1,551.0 202.5,552.9 203.9,553.4 205.3,553.8 206.7,553.4 208.1,552.4 209.5,551.1 210.9,549.5 212.3,548.6 213.7,548.6 215.1,547.7 216.5,549.2 217.9,550.8 219.3,552.6 220.7,551.5 222.1,551.5 223.5,550.8 224.9,554.2 226.3,550.8 227.7,551.4 229.1,548.1 230.5,550.0 231.9,548.7 233.3,549.9 234.7,549.0 236.1,549.6 237.5,548.9 238.9,553.8 240.3,555.2 241.7,555.4 243.1,549.7 244.5,547.6 245.9,547.1 247.3,548.1 248.7,546.9 250.1,547.7 251.5,549.5 252.9,551.9 254.3,553.2 255.7,552.9 257.1,553.6 258.5,552.6 259.9,552.5 261.3,552.1 262.7,552.7 264.1,551.9 265.5,549.8 266.9,550.4 268.3,550.8 269.7,552.9 271.1,550.1 272.5,550.7 273.9,550.1 275.3,552.3 276.7,552.3 278.1,552.4 279.5,550.5 280.9,550.6 282.3,549.9 283.7,552.3 285.1,551.6 286.5,551.1 287.9,549.5 289.3,547.4 290.7,549.9 292.1,549.5 293.5,550.3 294.9,547.5 296.3,546.6 297.7,549.2 299.1,550.8 300.5,553.4 301.9,552.8 303.3,553.3 304.7,553.6 306.1,551.8 307.5,553.1 308.9,552.1 310.3,553.7 311.7,551.7 313.1,551.2 314.5,550.5 315.9,550.7 317.3,549.4 318.7,550.9 320.1,550.1 321.5,551.0 322.9,549.8 324.3,549.5 325.7,551.6 327.1,551.6 328.5,551.6 329.9,548.7 331.3,548.1 332.7,548.9 334.1,552.2 335.5,552.2 336.9,553.0 338.3,552.0 339.7,554.8 341.1,554.7 342.5,554.2 343.9,550.7 345.3,548.9 346.7,548.9 348.1,551.2 349.5,550.6 350.9,550.7 352.3,548.8 353.7,550.3 355.1,549.8 356.5,549.5 357.9,549.6 359.3,549.0 360.7,550.5 362.1,549.5 363.5,548.7 364.9,545.8 366.3,545.8 367.7,549.4 369.1,551.7 370.5,552.3 371.9,549.5 373.3,549.0 374.7,550.8 376.1,552.6 377.5,552.3 378.9,548.1 380.3,547.9 381.7,549.5 383.1,551.1 384.5,549.9 385.9,549.9 387.3,551.5 388.7,550.8 390.1,550.6 391.5,548.8 392.9,550.4 394.3,548.2 395.7,549.2 397.1,548.8 398.5,551.8 399.9,552.8 401.3,551.2 402.7,550.5 404.1,547.0 405.5,546.5 406.9,546.1 408.3,548.8 409.7,549.9 411.1,549.9 412.5,548.4 413.9,548.8 415.3,548.4 416.7,549.6 418.1,549.2 419.5,548.2 420.9,548.9 422.3,550.1 423.7,548.3 425.1,548.8 426.5,547.4 427.9,550.0 429.3,550.3 430.7,550.7 432.1,550.4 433.5,549.8 434.9,550.1 436.3,547.9 437.7,546.6 439.1,547.4 440.5,551.4 441.9,554.1 443.3,552.6 444.7,549.9 446.1,548.2 447.5,549.1 448.9,550.5 450.3,551.8 451.7,551.1 453.1,551.9 454.5,549.6 455.9,548.8 457.3,547.6 458.7,549.3 460.1,549.6 461.5,551.8 462.9,550.9 464.3,552.3 465.7,551.2 467.1,550.2 468.5,550.5 469.9,549.7 471.3,551.2 472.7,550.4 474.1,551.4 475.5,549.0 476.9,549.9 478.3,549.8 479.7,551.7 481.1,551.5 482.5,551.2 483.9,548.2 485.3,548.0 486.7,547.9 488.1,552.5 489.5,552.0 490.9,552.8 492.3,550.8 493.7,550.4 495.1,547.1 496.5,546.9 497.9,549.1 499.3,552.1 500.7,551.7 502.1,551.8 503.5,549.7 504.9,549.6 506.3,547.7 507.7,551.7 509.1,554.0 510.5,554.2 511.9,550.2 513.3,547.2 514.7,549.2 516.1,551.2 517.5,551.5 518.9,550.4 520.3,549.4 521.7,549.4 523.1,549.5 524.5,549.6 525.9,550.5 527.3,551.3 528.7,552.0 530.1,552.5 531.5,550.9 532.9,549.8 534.3,550.5 535.7,552.1 537.1,553.9 538.5,551.5 539.9,549.6 541.3,548.1 542.7,550.9 544.1,550.5 545.5,551.6 546.9,548.7 548.3,549.9 549.7,550.6 551.1,550.7 552.5,551.6 553.9,550.8 555.3,552.5 556.7,551.0 558.1,550.3 559.5,550.5 560.9,552.2 562.3,550.5 563.7,550.4 565.1,550.6 566.5,552.4 567.9,551.0 569.3,548.7 570.7,548.0 572.1,548.1 573.5,549.9 574.9,549.8 576.3,550.5 577.7,550.7 579.1,551.8 580.5,551.6 581.9,552.3 583.3,552.0 584.7,551.4 586.1,549.5 587.5,549.6 588.9,551.5 590.3,551.3 591.7,549.7 593.1,547.7 594.5,547.9 595.9,548.9 597.3,550.3 598.7,549.1 600.1,550.8 601.5,553.1 602.9,554.6 604.3,554.6 605.7,552.1 607.1,551.5 608.5,551.6 609.9,551.3 611.3,553.2 612.7,554.1 614.1,554.9 615.5,555.3 616.9,552.0 618.3,551.2 619.7,548.7 621.1,548.7 622.5,547.9 623.9,548.8 625.3,548.7 626.7,549.9 628.1,548.6 629.5,550.4 630.9,550.3 632.3,552.2 633.7,551.6 635.1,551.9 636.5,551.4 637.9,553.3 639.3,552.3 640.7,551.5 642.1,549.7 643.5,550.3 644.9,550.6 646.3,550.4 647.7,549.3 649.1,549.2 650.5,549.4 651.9,549.3 653.3,547.6 654.7,545.3 656.1,547.2 657.5,549.4 658.9,552.5 660.3,551.1 661.7,551.1 663.1,551.5 664.5,552.0 665.9,553.3 667.3,552.0 668.7,552.7 670.1,551.9 671.5,552.3 672.9,550.8 674.3,549.8 675.7,551.5 677.1,552.2 678.5,555.1 679.9,553.4 681.3,553.7 682.7,552.5 684.1,552.0 685.5,550.1 686.9,548.0 688.3,547.4 689.7,551.3 691.1,551.6 692.5,554.4 693.9,549.9 695.3,550.3 696.7,550.1 698.1,552.0 699.5,552.7 700.9,551.7 702.3,553.2 703.7,551.8 705.1,551.2 706.5,551.4 707.9,552.3 709.3,552.3 710.7,551.0 712.1,550.6 713.5,549.5 714.9,550.2 716.3,550.5 717.7,550.3 719.1,548.4 720.5,548.6 721.9,550.2 723.3,552.8 724.7,552.6 726.1,553.0 727.5,552.9 728.9,550.0 730.3,550.9 731.7,549.3 733.1,552.9 734.5,551.3 735.9,551.2 737.3,550.9 738.7,549.0 740.1,550.1 741.5,550.7 742.9,552.4 744.3,553.7 745.7,552.9 747.1,554.3 748.5,552.0 749.9,551.8 751.3,547.3 752.7,548.7 754.1,547.8 755.5,549.9 756.9,548.3 758.3,547.6 759.7,548.4 761.1,550.2 762.5,551.4 763.9,553.8 765.3,553.3 766.7,553.2 768.1,550.6 769.5,548.8 770.9,547.0 772.3,546.2 773.7,546.5 775.1,547.1 776.5,548.4 777.9,549.3 779.3,550.8 780.7,550.4 782.1,551.4 783.5,550.0 784.9,550.7 786.3,548.8 787.7,552.9 789.1,552.6 790.5,554.9" fill="none" stroke="#6c10e0" stroke-width="6.0" stroke-linejoin="round" stroke-linecap="round"/>
<line x1="137.5" y1="564.5" x2="792.5" y2="564.5" stroke="#000" stroke-width="3.8" stroke-linecap="butt"/>
<line x1="140.0" y1="564.5" x2="140.0" y2="584" stroke="#000" stroke-width="3.8" stroke-linecap="butt"/>
<line x1="248.5" y1="564.5" x2="248.5" y2="575" stroke="#000" stroke-width="3.8" stroke-linecap="butt"/>
<line x1="357.0" y1="564.5" x2="357.0" y2="584" stroke="#000" stroke-width="3.8" stroke-linecap="butt"/>
<line x1="465.5" y1="564.5" x2="465.5" y2="575" stroke="#000" stroke-width="3.8" stroke-linecap="butt"/>
<line x1="574.0" y1="564.5" x2="574.0" y2="584" stroke="#000" stroke-width="3.8" stroke-linecap="butt"/>
<line x1="682.5" y1="564.5" x2="682.5" y2="575" stroke="#000" stroke-width="3.8" stroke-linecap="butt"/>
<line x1="791.0" y1="564.5" x2="791.0" y2="584" stroke="#000" stroke-width="3.8" stroke-linecap="butt"/>
<text x="140.0" y="626" font-size="43" text-anchor="middle" fill="#000" >0.5</text>
<text x="357.0" y="626" font-size="43" text-anchor="middle" fill="#000" >0.0</text>
<text x="574.0" y="626" font-size="43" text-anchor="middle" fill="#000" >-0.5</text>
<text x="791.0" y="626" font-size="43" text-anchor="middle" fill="#000" >-1.0</text>
<text x="341.5" y="666" font-size="30.5" text-anchor="start" fill="#000" >31</text>
<text x="377.4" y="687" font-size="43" text-anchor="start" fill="#000" >P -</text>
<text x="445.7" y="687.5" font-size="43" font-family="Liberation Serif" font-style="italic">&#948;</text>
<text x="476" y="687" font-size="42" letter-spacing="1.0">(ppm)</text>
<line x1="139.2" y1="764" x2="139.2" y2="1368" stroke="#000" stroke-width="3.8" stroke-linecap="butt"/>
<line x1="137" y1="1366.3" x2="791.5" y2="1366.3" stroke="#000" stroke-width="3.8" stroke-linecap="butt"/>
<line x1="120" y1="1366.3" x2="139.2" y2="1366.3" stroke="#000" stroke-width="3.8" stroke-linecap="butt"/>
<line x1="129.5" y1="1265.97" x2="139.2" y2="1265.97" stroke="#000" stroke-width="3.8" stroke-linecap="butt"/>
<line x1="120" y1="1165.6399999999999" x2="139.2" y2="1165.6399999999999" stroke="#000" stroke-width="3.8" stroke-linecap="butt"/>
<line x1="129.5" y1="1065.31" x2="139.2" y2="1065.31" stroke="#000" stroke-width="3.8" stroke-linecap="butt"/>
<line x1="120" y1="964.98" x2="139.2" y2="964.98" stroke="#000" stroke-width="3.8" stroke-linecap="butt"/>
<line x1="129.5" y1="864.65" x2="139.2" y2="864.65" stroke="#000" stroke-width="3.8" stroke-linecap="butt"/>
<line x1="120" y1="764.3199999999999" x2="139.2" y2="764.3199999999999" stroke="#000" stroke-width="3.8" stroke-linecap="butt"/>
<line x1="139.2" y1="1366.3" x2="139.2" y2="1385" stroke="#000" stroke-width="3.8" stroke-linecap="butt"/>
<line x1="301.95" y1="1366.3" x2="301.95" y2="1376" stroke="#000" stroke-width="3.8" stroke-linecap="butt"/>
<line x1="464.7" y1="1366.3" x2="464.7" y2="1385" stroke="#000" stroke-width="3.8" stroke-linecap="butt"/>
<line x1="627.45" y1="1366.3" x2="627.45" y2="1376" stroke="#000" stroke-width="3.8" stroke-linecap="butt"/>
<line x1="790.2" y1="1366.3" x2="790.2" y2="1385" stroke="#000" stroke-width="3.8" stroke-linecap="butt"/>
<text x="112" y="1378.8" font-size="43" text-anchor="end" fill="#000" >0</text>
<text x="112" y="1178.1399999999999" font-size="43" text-anchor="end" fill="#000" >2</text>
<text x="112" y="977.48" font-size="43" text-anchor="end" fill="#000" >4</text>
<text x="112" y="776.8199999999999" font-size="43" text-anchor="end" fill="#000" >6</text>
<text x="139.2" y="1428" font-size="43" text-anchor="middle" fill="#000" >0</text>
<text x="464.7" y="1428" font-size="43" text-anchor="middle" fill="#000" >2</text>
<text x="790.2" y="1428" font-size="43" text-anchor="middle" fill="#000" >4</text>
<text x="364" y="1473" font-size="42" text-anchor="start" fill="#000" font-style="italic" >c</text>
<text x="385" y="1489" font-size="33" text-anchor="start" fill="#000" >SMA</text>
<text x="469" y="1473" font-size="42" text-anchor="start" fill="#000" >(mM)</text>
<text transform="translate(38,1110.5) rotate(-90)" font-size="42"><tspan font-style="italic">A</tspan> (au)</text>
<polyline points="139.0,1365.5 274.0,1365.5 352.5,829.6 810.0,829.6" fill="none" stroke="#ff0000" stroke-width="5.5" stroke-linejoin="miter" stroke-linecap="round"/>
<circle cx="139.0" cy="1366.0" r="16.4" fill="#ff0000"/>
<circle cx="176.7" cy="1366.0" r="16.4" fill="#ff0000"/>
<circle cx="213.8" cy="1366.0" r="16.4" fill="#ff0000"/>
<circle cx="241.0" cy="1366.0" r="16.4" fill="#ff0000"/>
<circle cx="306.7" cy="1144.0" r="16.4" fill="#ff0000"/>
<circle cx="339.5" cy="920.7" r="16.4" fill="#ff0000"/>
<circle cx="372.9" cy="872.6" r="16.4" fill="#ff0000"/>
<circle cx="389.0" cy="857.5" r="16.4" fill="#ff0000"/>
<circle cx="407.5" cy="845.0" r="16.4" fill="#ff0000"/>
<circle cx="439.9" cy="815.4" r="16.4" fill="#ff0000"/>
<circle cx="474.0" cy="813.8" r="16.4" fill="#ff0000"/>
<circle cx="640.3" cy="804.2" r="16.4" fill="#ff0000"/>
<circle cx="807.5" cy="794.4" r="16.4" fill="#ff0000"/>
<polyline points="139.0,1365.0 177.0,1365.0 190.5,1235.8 307.7,1235.8" fill="none" stroke="#000000" stroke-width="5.5" stroke-linejoin="miter" stroke-linecap="round"/>
<circle cx="139.0" cy="1366.0" r="16.4" fill="#000000"/>
<circle cx="157.0" cy="1366.0" r="16.4" fill="#000000"/>
<circle cx="176.7" cy="1366.0" r="16.4" fill="#000000"/>
<circle cx="180.5" cy="1337.4" r="16.4" fill="#000000"/>
<circle cx="188.9" cy="1257.0" r="16.4" fill="#000000"/>
<circle cx="204.0" cy="1232.0" r="16.4" fill="#000000"/>
<circle cx="212.7" cy="1246.0" r="16.4" fill="#000000"/>
<circle cx="221.3" cy="1231.0" r="16.4" fill="#000000"/>
<circle cx="264.5" cy="1231.0" r="16.4" fill="#000000"/>
<circle cx="306.7" cy="1218.1" r="16.4" fill="#000000"/>
<polyline points="139.0,1365.0 215.0,1365.0 244.5,1102.9 475.0,1102.9" fill="none" stroke="#0000ff" stroke-width="5.5" stroke-linejoin="miter" stroke-linecap="round"/>
<circle cx="139.0" cy="1366.0" r="16.4" fill="#0000ff"/>
<circle cx="158.0" cy="1366.0" r="16.4" fill="#0000ff"/>
<circle cx="176.7" cy="1366.0" r="16.4" fill="#0000ff"/>
<circle cx="193.0" cy="1366.0" r="16.4" fill="#0000ff"/>
<circle cx="213.8" cy="1366.0" r="16.4" fill="#0000ff"/>
<circle cx="222.3" cy="1284.5" r="16.4" fill="#0000ff"/>
<circle cx="239.5" cy="1144.9" r="16.4" fill="#0000ff"/>
<circle cx="259.7" cy="1134.0" r="16.4" fill="#0000ff"/>
<circle cx="263.0" cy="1107.0" r="16.4" fill="#0000ff"/>
<circle cx="275.6" cy="1112.0" r="16.4" fill="#0000ff"/>
<circle cx="290.8" cy="1102.9" r="16.4" fill="#0000ff"/>
<circle cx="307.6" cy="1101.2" r="16.4" fill="#0000ff"/>
<circle cx="389.9" cy="1091.0" r="16.4" fill="#0000ff"/>
<circle cx="472.8" cy="1071.7" r="16.4" fill="#0000ff"/>
<polyline points="139.0,1365.0 251.0,1365.0 295.5,968.8 642.0,968.8" fill="none" stroke="#0a7d0a" stroke-width="5.5" stroke-linejoin="miter" stroke-linecap="round"/>
<circle cx="139.0" cy="1366.0" r="16.4" fill="#0a7d0a"/>
<circle cx="176.7" cy="1366.0" r="16.4" fill="#0a7d0a"/>
<circle cx="213.8" cy="1366.0" r="16.4" fill="#0a7d0a"/>
<circle cx="264.3" cy="1237.4" r="16.4" fill="#0a7d0a"/>
<circle cx="289.5" cy="1020.7" r="16.4" fill="#0a7d0a"/>
<circle cx="310.6" cy="983.7" r="16.4" fill="#0a7d0a"/>
<circle cx="327.0" cy="989.5" r="16.4" fill="#0a7d0a"/>
<circle cx="338.6" cy="975.5" r="16.4" fill="#0a7d0a"/>
<circle cx="366.7" cy="972.8" r="16.4" fill="#0a7d0a"/>
<circle cx="515.4" cy="947.9" r="16.4" fill="#0a7d0a"/>
<circle cx="640.3" cy="939.6" r="16.4" fill="#0a7d0a"/>
<text x="813.5" y="883" font-size="42.5" text-anchor="end" fill="#ff0000" >10 mM DMPC</text>
<text x="813.5" y="1022" font-size="42.5" text-anchor="end" fill="#0a7d0a" >7.5 mM DMPC</text>
<text x="813" y="1145.5" font-size="42.5" text-anchor="end" fill="#0000ff" >5.0 mM DMPC</text>
<text x="813.5" y="1269" font-size="42.5" text-anchor="end" fill="#000000" >2.5 mM DMPC</text>
<text x="169" y="784" font-size="42" text-anchor="start" fill="#000" >SOL</text>
<text x="394" y="1322" font-size="43.5" text-anchor="start" fill="#000" letter-spacing="1">SAT</text>
<line x1="264.6" y1="766.4" x2="310" y2="794" stroke="#000" stroke-width="5.5" stroke-linecap="round"/>
<polygon points="338.4,813.8 311.4,784.4 300,801.2" fill="#000" stroke="#000" stroke-width="3" stroke-linejoin="round"/>
<line x1="386.4" y1="1324.5" x2="335" y2="1338" stroke="#000" stroke-width="5.5" stroke-linecap="round"/>
<polygon points="301.2,1346.3 335.6,1327.2 340.8,1347.6" fill="#000" stroke="#000" stroke-width="3" stroke-linejoin="round"/>
<line x1="139" y1="1566" x2="139" y2="2170" stroke="#000" stroke-width="3.8" stroke-linecap="butt"/>
<line x1="137" y1="2168.4" x2="791.5" y2="2168.4" stroke="#000" stroke-width="3.8" stroke-linecap="butt"/>
<line x1="120" y1="2168.4" x2="139" y2="2168.4" stroke="#000" stroke-width="3.8" stroke-linecap="butt"/>
<line x1="129.5" y1="2068.2000000000003" x2="139" y2="2068.2000000000003" stroke="#000" stroke-width="3.8" stroke-linecap="butt"/>
<line x1="120" y1="1968.0" x2="139" y2="1968.0" stroke="#000" stroke-width="3.8" stroke-linecap="butt"/>
<line x1="129.5" y1="1867.8000000000002" x2="139" y2="1867.8000000000002" stroke="#000" stroke-width="3.8" stroke-linecap="butt"/>
<line x1="120" y1="1767.6000000000001" x2="139" y2="1767.6000000000001" stroke="#000" stroke-width="3.8" stroke-linecap="butt"/>
<line x1="129.5" y1="1667.4" x2="139" y2="1667.4" stroke="#000" stroke-width="3.8" stroke-linecap="butt"/>
<line x1="120" y1="1567.2" x2="139" y2="1567.2" stroke="#000" stroke-width="3.8" stroke-linecap="butt"/>
<line x1="139.0" y1="2168.4" x2="139.0" y2="2187" stroke="#000" stroke-width="3.8" stroke-linecap="butt"/>
<line x1="220.375" y1="2168.4" x2="220.375" y2="2178" stroke="#000" stroke-width="3.8" stroke-linecap="butt"/>
<line x1="301.75" y1="2168.4" x2="301.75" y2="2187" stroke="#000" stroke-width="3.8" stroke-linecap="butt"/>
<line x1="383.125" y1="2168.4" x2="383.125" y2="2178" stroke="#000" stroke-width="3.8" stroke-linecap="butt"/>
<line x1="464.5" y1="2168.4" x2="464.5" y2="2187" stroke="#000" stroke-width="3.8" stroke-linecap="butt"/>
<line x1="545.875" y1="2168.4" x2="545.875" y2="2178" stroke="#000" stroke-width="3.8" stroke-linecap="butt"/>
<line x1="627.25" y1="2168.4" x2="627.25" y2="2187" stroke="#000" stroke-width="3.8" stroke-linecap="butt"/>
<line x1="708.625" y1="2168.4" x2="708.625" y2="2178" stroke="#000" stroke-width="3.8" stroke-linecap="butt"/>
<line x1="790.0" y1="2168.4" x2="790.0" y2="2187" stroke="#000" stroke-width="3.8" stroke-linecap="butt"/>
<text x="112" y="2180.4" font-size="43" text-anchor="end" fill="#000" >0.0</text>
<text x="112" y="1980.0" font-size="43" text-anchor="end" fill="#000" >0.5</text>
<text x="112" y="1779.6000000000001" font-size="43" text-anchor="end" fill="#000" >1.0</text>
<text x="112" y="1579.2" font-size="43" text-anchor="end" fill="#000" >1.5</text>
<text x="139.0" y="2230.3" font-size="43" text-anchor="middle" fill="#000" >0.0</text>
<text x="301.75" y="2230.3" font-size="43" text-anchor="middle" fill="#000" >2.5</text>
<text x="464.5" y="2230.3" font-size="43" text-anchor="middle" fill="#000" >5.0</text>
<text x="627.25" y="2230.3" font-size="43" text-anchor="middle" fill="#000" >7.5</text>
<text x="790.0" y="2230.3" font-size="43" text-anchor="middle" fill="#000" >10.0</text>
<text x="352" y="2282" font-size="42" text-anchor="start" fill="#000" font-style="italic" >c</text>
<text x="373" y="2296" font-size="33" text-anchor="start" fill="#000" >DMPC</text>
<text x="483" y="2282" font-size="42" text-anchor="start" fill="#000" >(mM)</text>
<text transform="translate(36.6,1959.4) rotate(-90)" font-size="42"><tspan font-style="italic" font-size="43">c</tspan><tspan font-size="34" dy="13.9">SMA</tspan><tspan dx="-2.7" dy="-13.9" letter-spacing="0.6"> (mM)</tspan></text>
<line x1="139" y1="2168.4" x2="790" y2="1647.4" stroke="#ff0000" stroke-width="5.5" stroke-linecap="round"/>
<line x1="139" y1="2168.4" x2="790" y2="1819.7" stroke="#0000ff" stroke-width="5.5" stroke-linecap="round"/>
<circle cx="302.4" cy="2038.7" r="16.3" fill="#ff0000"/>
<circle cx="464.0" cy="1909.0" r="16.3" fill="#ff0000"/>
<circle cx="627.5" cy="1783.4" r="16.3" fill="#ff0000"/>
<circle cx="790.2" cy="1640.6" r="16.3" fill="#ff0000"/>
<circle cx="302.1" cy="2072.9" r="16.3" fill="#0000ff"/>
<circle cx="465.4" cy="1985.5" r="16.3" fill="#0000ff"/>
<circle cx="627.0" cy="1896.3" r="16.3" fill="#0000ff"/>
<circle cx="791.4" cy="1838.5" r="16.3" fill="#0000ff"/>
<g transform="translate(377.2,1913.2) rotate(-38.6)" fill="#ff0000"><text x="0" y="0" font-size="42" font-style="italic">R</text><text x="30.3" y="14.9" font-size="29">S</text><text x="29.8" y="-19" font-size="31">m,SOL</text><text x="138.9" y="0" font-size="42" letter-spacing="0.7">= 0.130&#177;0.004</text></g>
<g transform="translate(435.75,2103.0) rotate(-28.0)" fill="#0000ff"><text x="0" y="0" font-size="42" font-style="italic">R</text><text x="30.3" y="14.9" font-size="29">S</text><text x="29.8" y="-19" font-size="31">b,SAT</text><text x="128.6" y="0" font-size="42" letter-spacing="0.7">= 0.087&#177;0.006</text></g></svg>
</body></html>
